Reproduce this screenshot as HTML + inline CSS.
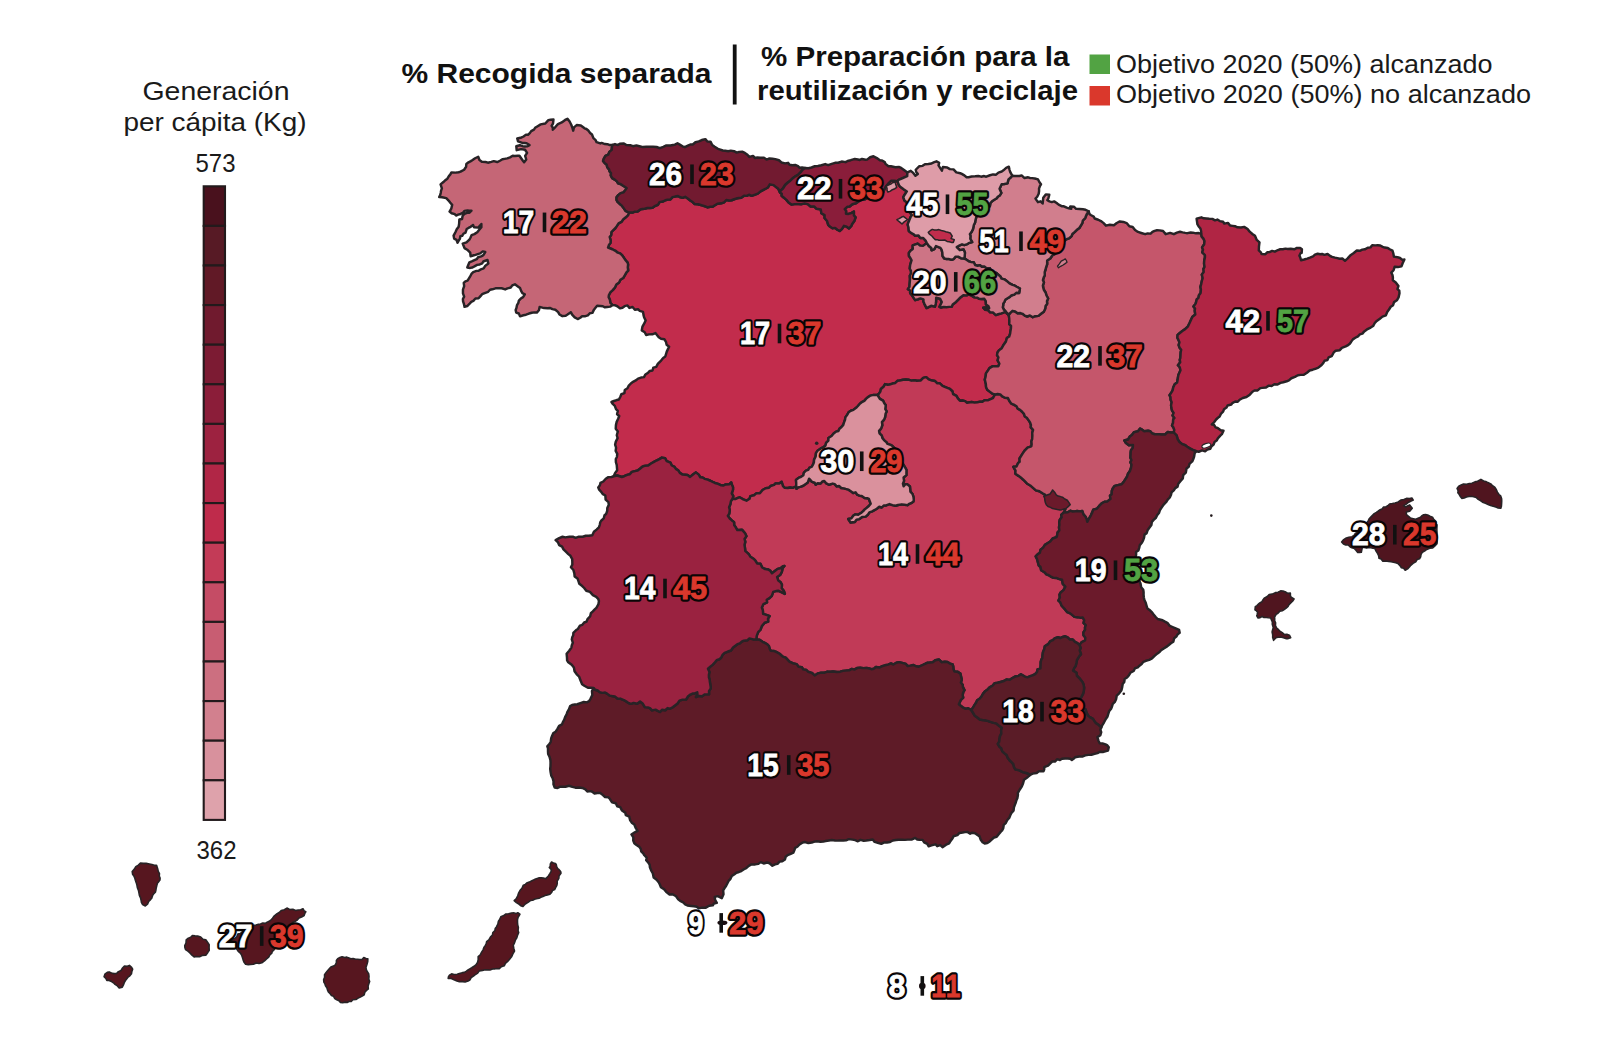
<!DOCTYPE html>
<html><head><meta charset="utf-8"><title>Mapa residuos</title>
<style>
html,body{margin:0;padding:0;background:#fff;}
body{width:1604px;height:1046px;overflow:hidden;font-family:"Liberation Sans",sans-serif;}
svg{display:block;position:absolute;left:0;top:0;}
text{font-family:"Liberation Sans",sans-serif;}
.reg{stroke:#282326;stroke-width:2.45;stroke-linejoin:round;}
.isl{stroke:#282326;stroke-width:1.6;stroke-linejoin:round;}
.num{font-weight:bold;font-size:31.11px;font-kerning:none;}
.o{fill:#0a0506;stroke:#0a0506;stroke-width:5.4px;stroke-linejoin:round;}
.w{fill:#fff;stroke:#fff;stroke-width:0.8px;}
.r{fill:#DA382C;stroke:#DA382C;stroke-width:0.8px;}
.g{fill:#52A343;stroke:#52A343;stroke-width:0.8px;}
.bar{fill:#111;}
.hd{font-weight:bold;font-size:27.6px;fill:#111;}
.lg{font-size:25px;fill:#1a1a1a;}
</style></head><body>
<svg width="1604" height="1046" viewBox="0 0 1604 1046">
<rect width="1604" height="1046" fill="#fff"/>

<path class="reg" fill="#C22C4C" d="M628.75,212.5 632.98,212.52 634.86,211.6 637.62,211.44 640.37,209.4 642.36,208.94 644.61,208.7 647.45,208.03 649.79,207.93 652.56,207.79 655.3,205.8 658.01,204.75 659.47,202.1 663.08,201.53 665.35,200.22 667.59,199.63 670.41,199.45 672.48,197.16 675.03,196.58 677.97,196.05 679.65,197.03 682.64,197.89 685.16,196.81 688.1,198.79 690.21,200.43 692.64,202.09 694.71,204.09 697.94,204.23 699.84,204.75 702.94,205.65 704.75,206.23 707.6,207.44 710.21,206.74 712.63,206.74 714.49,205.5 717.43,203.73 721.17,203.3 724.2,202.29 726.27,200 729.01,200.47 731.66,200.24 734.12,199.26 736.18,198.54 738.74,198.04 741.22,197.76 744.07,195.72 746.73,195.89 748.96,194.74 751.57,195.8 754.47,194.81 757.83,193.59 760.56,191.34 763.41,189.88 766.04,188.52 767.94,187.45 769.82,184.34 773.69,185.08 775.19,186.37 778.28,188.81 780,192.5 781.77,193.77 781.6,195.77 783.63,197.43 786.67,200.13 788.58,202.49 791.41,204.59 794.7,204.14 798.42,204.1 801.57,204.17 804.69,203.44 807.75,204.1 810.58,206.5 814.09,206.45 816.34,208.73 820.78,209.4 821.36,213.24 824.6,215.08 824.54,218.07 827.06,220.97 828.2,224.88 829.92,226.56 832.44,228.16 835.12,227.87 837.34,229.77 839.64,230.96 841.86,229.09 843.92,225.8 846.67,226.68 849.05,228.41 851.31,225.96 852.14,224.03 854.31,221.1 855.61,217.38 853.9,215.48 853.88,211.52 851.33,213.1 848.53,213.95 845.96,213.67 846.12,211.06 844.68,209.12 847.5,206.64 849.64,206.43 852.33,204.27 855.99,203.3 859.18,200.96 861.89,199.73 865.18,199.22 867.06,198.01 870.39,197.14 872.27,196.86 874.95,195.68 878.12,196.78 879.15,193.94 883.19,192.43 884.15,189.88 885.73,186.56 887.92,183.91 891.04,180.74 894.36,180.83 897.41,181.18 898.99,185.25 900.24,186.75 903.96,189.46 906.86,191.43 904.66,194.7 903.3,197.06 904.46,200.59 906.32,201.91 907.68,204.92 908.27,208.07 908.57,211.08 911.92,215.06 910.5,217.19 909.16,220.67 908.12,223 907.69,224.75 908.52,227.62 908.79,231 910.99,232.86 913.24,234 915.18,235.71 918.53,235.58 920.28,237.91 923.22,238.01 925.79,240.92 926.86,243.11 923.04,245.88 920.1,245.61 917.69,243.56 912.7,245.35 912.76,248.99 910.51,250.66 908.87,253.04 908.97,256.09 910.23,257.76 911.58,260.25 910.84,262.56 910.13,265.02 909.75,268.65 910.84,270.5 911.11,273.22 909.77,275.77 909.99,279.15 909.87,281.11 909.59,284.13 909.45,286.82 907.88,289.16 910.1,290.48 910.14,293.1 911.73,294.85 912.67,296.41 915.16,300.18 918.11,299.25 920.37,298.42 923.45,299.33 923.42,301.56 924.39,303.82 926.6,308.07 931.06,305.79 934.94,306.67 935.69,304.02 936.09,301.46 936.14,297.75 940,298.69 941.77,302.04 940.64,304.42 939.48,306.81 941.08,307.52 943.73,306.88 946.56,307.15 949.1,306.85 951.73,306.88 952.7,304.41 954.7,302.91 956.01,301.95 958.54,299.34 960.41,297.44 963.32,295.22 966.64,295.38 968.65,294.38 971.63,295.6 974.5,297.38 977.46,297.65 979.04,298.75 981.4,299.04 984.31,298.82 985.78,301.18 985.93,304.49 988.33,305.93 989.22,308.16 986.72,307.25 983.24,307.71 985.09,309.67 988.09,310.16 990.16,312.3 992.9,312.36 995.88,315.11 998.12,314.21 1001.3,313.39 1003.68,312.65 1005.28,311.41 1007.25,313.13 1008.75,315 1009.23,318.08 1009.37,321.06 1009.24,324.11 1011.04,325.86 1010.9,328.63 1010.37,331.63 1010.12,333.65 1009.19,336.59 1006.89,338.07 1005.79,341.79 1003.69,344.68 1001.74,348.24 998.92,350.38 997.52,352.45 997.05,355.16 998.4,357.39 997.59,360.44 999.36,363.51 998.44,366.23 995.95,366.21 992.86,366.15 989.45,368.13 988.03,370.31 985.97,373.42 985.65,376.39 984.79,379.66 985.86,384 986.05,387.04 987.27,389.67 990.01,391.84 992.21,393.57 995,394.5 992.95,398.15 990,399.34 987.74,400.28 984.53,400.14 982.47,401.66 980.22,401.64 977.63,402.2 974.56,402.64 971.71,402.04 967.03,402.8 965.06,401.14 962.42,400.5 959.88,400.67 957.82,398.45 956.43,395.89 953.15,394.06 952.36,391.25 949.85,388.85 946.72,387.7 944.73,386.86 942.49,385.93 939.84,383.3 937.31,383.27 935.02,381.01 932,380.56 928.68,379.32 926.22,377.13 923.24,377.87 920.54,380.6 916.79,380.7 914.57,380.23 911.34,380.65 908.41,379.68 905.84,379.49 903.21,379.71 899.74,380.43 897.74,380.67 895.34,382.99 892.57,383.56 889.6,384.49 887.59,384.8 885.03,384.11 883.5,386.79 880.92,388.98 880.33,391.68 878.99,393.69 877.5,395 873.62,394.92 870.54,395.58 867.68,397.36 865.99,398.88 864.28,400.93 861.41,402.44 859.66,403.92 857.68,406.25 856.13,407.81 853.39,409.88 850.78,410.74 848.57,412.34 847.15,414.82 845.39,417.39 845.04,419.8 844.07,422.25 843.28,424.88 841.51,427.06 839.45,428.79 838.41,431.03 836.09,431.66 833.65,433.57 831.58,436.06 828.36,437.97 828.4,440.6 826.08,442.89 825.51,445.47 823.11,447.52 821.13,448.17 818.91,449.76 817.81,450.43 815.96,453.13 815.67,456.45 814.1,459.61 813.87,462.61 812.95,464.62 811.69,466.76 809.27,467.97 808.22,469.94 805.94,470.69 803.94,472.54 803.35,475.16 800.44,477.16 798.5,477.91 795.98,479.88 796.18,482.23 796.25,486.25 793.05,487.86 790.2,487.55 787.8,488.03 784.67,487.83 783,486.21 781.62,481.81 779.23,483.52 775.57,483.39 774.14,484.95 770.6,486.01 769.04,487.8 765.7,488.2 762.59,489.97 759.89,493.19 756.31,493.31 754.06,495.23 750.37,496.11 749.54,498.77 746.52,500.7 743.25,499.34 739.58,497.29 737.92,497.89 735.32,499.01 732.5,498.75 733.29,496.14 731.73,493.3 733.01,489.64 733.02,487.16 731.91,484.77 731.21,482.46 729.48,484.18 725.65,484.48 723.12,485.53 721.2,485.34 718.09,483.87 714.93,482.97 712.64,481.93 710.33,480.75 707.67,479.61 704.62,478.81 702.54,477.53 700.32,477.4 698.72,474.66 695.82,472.37 692.98,474.52 690.11,476.92 687.54,474.92 685.04,474.72 682.63,474.58 679.84,472.88 678.24,470.32 676.18,469.16 674.16,466.55 671.75,465.5 670.48,462.69 666.72,461.19 665.17,458.19 661.87,457.59 659.4,459.1 656.42,460.55 654.41,461.68 651.05,463.5 648.2,465.41 644.42,465.85 642.04,466.98 639.97,468.75 637.67,470.44 634.92,471.08 631.89,471.92 629.82,474.27 627.16,474.91 624.21,476.23 621.82,477 617.08,475.5 613.75,476.25 615.01,473.15 617.15,470.19 616.96,467.91 616.71,464.93 615.9,462.24 615.81,458.98 616.91,456.98 617.26,453.79 615.66,450.91 616.08,447.75 615.15,444.54 615.81,441.61 617.62,438.17 616.77,435.22 617.87,431.44 615.75,428.74 615.93,425.13 616.57,422.14 618.14,418.8 619.26,415.94 617.05,414.27 617.8,410.92 616,409.09 614.82,405.84 612.99,404.2 611.47,402.01 613.98,401.01 616.75,400.06 618.91,399.56 620.35,396.76 621.35,394.26 624.42,393.19 624.78,389.98 627.48,388.24 628.58,385.95 630.84,383.49 633.06,381.8 635.73,380.43 638.07,378.6 641.06,377.55 644,377.16 645.45,374.45 648.13,372.66 649.8,370.97 652.51,370.52 653.33,367.58 656.22,366.89 657.8,363.85 659.57,362.04 661.1,360.51 663.19,357.94 665.31,356.47 666.02,354.12 666.77,351.61 667.93,349.13 669.15,346.7 666.63,344.7 665.96,341.79 664.34,339.27 661.01,338.77 658.76,337.32 657.16,335.2 655.44,333.04 652.31,334.33 648.9,334.39 646.14,335.06 644.73,332.22 641.76,330.42 642.44,326.6 644.27,323.44 645.61,320.4 644.08,317.26 643.53,315.14 643,311.89 639.7,310.83 638.03,309.23 634.86,309.72 632.59,307.02 629.43,307.89 627.53,305.43 624.6,306.14 622.48,307.7 619.95,308.37 617.34,306.25 614.78,305.17 612.5,305 610.35,302.89 609.88,299.7 608.64,297.15 608.91,294.98 610.49,292.16 612.74,290.15 614.98,287.44 616.36,284.46 619.07,282.58 620.41,279.78 623.18,278.01 624.9,275.13 626.63,272.04 628.19,270.51 627.78,267.27 628.09,264.5 627.62,262.62 625.77,260.51 623.94,257.82 622.27,255.49 620.07,253.37 617.75,252.69 615.4,250.8 612.29,249.26 608.04,247.65 609.06,244.74 610.46,243.06 610.66,240.4 609.68,236.97 611.21,235.01 611.37,232.04 613.27,230.17 615.29,228.26 616.59,226.39 618.56,223.41 621.33,221.92 623.34,219.17 625.79,217.28 628.06,215.15Z"/>
<path class="reg" fill="#C13A57" d="M995,394.5 992.95,398.15 990,399.34 987.74,400.28 984.53,400.14 982.47,401.66 980.22,401.64 977.63,402.2 974.56,402.64 971.71,402.04 967.03,402.8 965.06,401.14 962.42,400.5 959.88,400.67 957.82,398.45 956.43,395.89 953.15,394.06 952.36,391.25 949.85,388.85 946.72,387.7 944.73,386.86 942.49,385.93 939.84,383.3 937.31,383.27 935.02,381.01 932,380.56 928.68,379.32 926.22,377.13 923.24,377.87 920.54,380.6 916.79,380.7 914.57,380.23 911.34,380.65 908.41,379.68 905.84,379.49 903.21,379.71 899.74,380.43 897.74,380.67 895.34,382.99 892.57,383.56 889.6,384.49 887.59,384.8 885.03,384.11 883.5,386.79 880.92,388.98 880.33,391.68 878.99,393.69 877.5,395 879.87,398.84 883.04,400.6 884.28,403.16 885.78,405.15 885.29,409.19 886.67,411.43 885.55,413.86 885.14,416.99 884.07,419.62 881.92,422.12 882.32,425.21 881.04,428.69 879.03,430.88 879.47,433.32 881.77,435.65 882.49,438.34 883.94,440.08 886.27,442.06 887.61,443.95 890.46,444.8 892.28,445.86 895.76,449.38 896.63,451.71 898.67,453.13 900.21,455.71 901.11,458.51 901.64,461.85 903.43,464.67 905.07,467.35 906.46,469.81 906.43,472.06 906.44,475.17 903.59,477.54 904.05,480.88 902.92,483.76 903.66,486.32 905.37,484.22 907.11,484.11 909.94,486.47 910.2,489.19 910.4,491.59 912.5,493.95 913.46,496.89 913.83,499.82 913.42,501.43 911.08,503.2 909.03,503.98 907.43,505.15 904.45,504.72 901.85,504.34 898.02,505.03 895.55,505.74 892.46,505.17 889.47,504.05 886.1,505.43 883.7,505.5 881.76,507.49 879.23,506.74 876.81,508.67 874.79,509.93 872.18,511.29 869.4,512.3 868.08,514.46 865.66,516.6 862.1,516.96 859.36,519.09 856.49,519.59 854.85,521.95 850.58,522.47 848.24,519.06 851.37,518.36 853.4,515.52 855.4,514.38 858.23,514.66 860.96,513.06 863.45,510.82 864.5,509.63 866.71,507.87 868.86,505.98 870.69,503.72 868.91,498.97 867.16,498.22 864.63,498.1 861.74,496.07 859.89,495.87 857.26,494.69 855.56,492.32 853.12,493.01 850.75,491.15 848.6,489.64 845.66,488.9 844.11,488.37 841.21,488.01 839.05,485.96 836.7,486.42 834.71,484.14 832.68,483.58 828.94,484.76 825.97,483.08 824.28,480.94 822.3,481.42 820.62,483.49 817.59,483.33 815.68,484.73 814.74,482.79 811.99,481.93 809.08,478.65 807.75,482.54 806.04,483.81 803.23,485.78 800.2,486.84 798.04,487.41 796.49,488.8 796.25,486.25 793.05,487.86 790.2,487.55 787.8,488.03 784.67,487.83 783,486.21 781.62,481.81 779.23,483.52 775.57,483.39 774.14,484.95 770.6,486.01 769.04,487.8 765.7,488.2 762.59,489.97 759.89,493.19 756.31,493.31 754.06,495.23 750.37,496.11 749.54,498.77 746.52,500.7 743.25,499.34 739.58,497.29 737.92,497.89 735.32,499.01 732.5,498.75 730.93,501.12 730.28,504.46 729.07,507.29 729.78,510.02 729.24,513.81 727.81,515.87 729.75,518.5 731.89,520.45 734.09,522.14 734.2,525.32 735.6,527.05 737.31,530.09 739.37,530.04 742.11,529.83 745.07,533.26 746.47,536.16 744.54,539.02 745.31,541.84 744.49,544.81 744.94,547.66 745.33,551.15 747.13,552.65 748.93,554.44 750.47,556.81 753.07,558.44 755.01,560.12 757.07,563.46 760.43,563.71 762.16,567.49 765.16,569.06 768.06,569.42 770.1,570.56 771.97,573.23 775.18,570.84 777.69,568.89 780.56,568.22 782.74,566.52 784.44,565.9 782.67,568.09 781.84,571.92 780.08,575.04 777.09,576.92 778.21,580.38 780.36,581.92 781.93,584.65 781.73,588.2 783.76,590.66 784.88,593.93 781.88,592.47 778.1,590.68 776.53,590.92 773.23,591.92 771.81,595.8 769.43,598.14 766.7,599.74 767.04,602.46 763.48,604.03 761.84,607.6 762.84,610.33 763.11,613.87 767.16,615.08 769.67,616.09 768,618.62 768.17,621.62 764.63,622.78 761.81,626.09 760.52,629.74 758.13,632.18 756.79,635.59 756.25,639.5 759.52,639.68 762.55,641.83 764.73,642.89 767.26,644.3 768.93,646 769.73,648.95 770.7,650.73 774.16,651.03 776.23,651.83 779.56,653.76 782.77,656.71 785.7,657.69 787.77,659.9 789.36,661.59 792.65,663.19 796.67,664.1 798.56,666.77 801.83,667.1 803.14,669.37 806.42,669.97 808.06,671.8 811.62,672.81 813.18,674.05 814.7,675.46 818.05,673.33 821.13,672.61 824.13,672.8 827.34,671.6 830.48,671.82 833.09,671.55 837.08,671.94 840.27,671.68 842.91,670.86 845.51,670.63 849.16,670.3 851.82,668.88 854.27,669.63 857.47,667.85 860.15,667.8 863.52,668.14 866.39,667.98 868.46,668.23 871.32,669.17 873.97,668.7 875.89,667.03 879.31,667.53 882.31,666.21 885.07,665.31 888.13,664.64 891.03,663.45 893.41,664.55 896.33,662.77 899.11,662.16 902.17,662.83 905.88,663.95 907.65,666.12 910.46,665.6 913.43,664.97 915.96,666.28 918.81,666.74 922.15,665.25 925.51,663.67 927.21,662.8 929.84,662.58 932.71,662.23 935.31,660.22 939.1,659.53 941.56,662.19 944.74,661.82 947.44,662.05 950.08,663.64 952.7,664.5 953.24,666.37 953.48,668.96 954.45,671.62 957.34,671.66 960.39,673.59 961.18,676.95 961.85,679.68 960.85,682.56 962.66,684.68 962.93,687.19 964.5,690.11 963.27,692.26 962.65,695.09 963.2,697.7 960.68,700.2 958.9,704.27 960.32,705.54 962.62,707.32 965.65,708.83 968.12,708.25 971.25,710 973.08,707.52 974.59,704.83 976.19,702.49 977.15,700.27 979.52,698.81 981.55,696.44 983.29,693.37 985.19,691.17 987.95,689.15 989.6,687.39 992.48,685.74 994.75,683.14 997.62,682.79 1000.55,682 1003.93,681.01 1006.77,679.39 1009.8,679.84 1012.44,678.04 1015.09,676.57 1018.62,675.84 1020.92,674.25 1024.75,676.56 1027.45,677.37 1030.28,676.16 1032.56,675.44 1035.18,674.13 1037,671.95 1037.6,669.4 1040.41,668.43 1040.64,664.76 1040.68,662.17 1041.36,659.56 1042.31,658.01 1042.51,655.25 1042.95,652.23 1044.21,649.2 1044.81,646.3 1048.19,644.14 1050.45,641.03 1052.9,640.02 1054.64,638.37 1057.93,637.27 1060.2,638.03 1062.79,636.98 1065.24,636.29 1067.63,637.39 1069.96,639.54 1072.79,639.45 1074.94,641.92 1077.45,643.14 1079.5,645 1081.8,642.08 1085.05,640.49 1085.34,637.63 1083.48,635.17 1083.4,632.34 1085.12,629.69 1084.97,627.58 1085.81,625.09 1083.56,622.99 1084.21,620.21 1082.81,617.53 1080.26,617.67 1077.5,617.16 1074.4,616.89 1072.39,615.17 1070.17,613.35 1067.28,612.19 1065.03,609.42 1062.8,606.99 1061.47,605.44 1060.32,602.34 1058.46,600.58 1059.86,597.5 1059.49,594.67 1060.63,592.49 1063.49,590.14 1065.36,586.62 1062.76,583.83 1062.01,579.72 1058.62,578.86 1056.82,577.98 1053.5,577.9 1051.43,576.98 1048.91,575.27 1046.47,574.43 1044.39,572.18 1041.13,570.2 1040.5,567.01 1038.65,565.26 1037.81,562.02 1037.01,558.99 1035.7,556.41 1037.69,554.28 1039.87,552.74 1040.57,549.72 1043.15,547.58 1044.91,544.84 1047.47,543.24 1050.23,541.53 1052.66,538.5 1056.54,537.13 1057.1,535.41 1057.63,532.4 1059.33,530.47 1059,527.16 1059.44,524.88 1059.23,522.22 1059.77,519.68 1061.63,517.3 1061.25,515 1063.49,512.96 1065.54,509.15 1061.89,508.07 1060.04,505.82 1057.1,503.87 1055.15,501.01 1052.12,500.41 1050.33,498.88 1047.43,497.78 1045.3,494.9 1042.92,493.53 1039.37,491.27 1035.94,490.35 1033.05,487.89 1030.22,485.44 1027.37,483.77 1025.02,481.4 1022.99,479.48 1020.75,477.46 1018.52,475.87 1015.33,473.81 1015.52,470.61 1013.38,466.82 1016.48,466.52 1018.01,463.16 1019.64,461.73 1019.51,458.48 1021.02,456.15 1022.74,453.38 1024.9,450.31 1027.59,447.59 1031.33,446.39 1031.65,444.2 1031.42,441.28 1032.16,439.14 1032.38,435.77 1032.24,432.85 1033.08,429.9 1030.79,427.44 1030.93,424.86 1030.14,422.71 1028.71,420.35 1026.81,417.7 1024.9,416.55 1023.96,413.82 1022.12,411.76 1020.07,409.91 1017.76,408.7 1016.54,406.28 1013.73,404.63 1011.3,403.62 1009.43,401.02 1007.94,397.95 1004.95,397.74 1002.3,396.39 1000.28,394.36 997.69,394.06Z"/>
<path class="reg" fill="#5E1B27" d="M756.25,639.5 759.52,639.68 762.55,641.83 764.73,642.89 767.26,644.3 768.93,646 769.73,648.95 770.7,650.73 774.16,651.03 776.23,651.83 779.56,653.76 782.77,656.71 785.7,657.69 787.77,659.9 789.36,661.59 792.65,663.19 796.67,664.1 798.56,666.77 801.83,667.1 803.14,669.37 806.42,669.97 808.06,671.8 811.62,672.81 813.18,674.05 814.7,675.46 818.05,673.33 821.13,672.61 824.13,672.8 827.34,671.6 830.48,671.82 833.09,671.55 837.08,671.94 840.27,671.68 842.91,670.86 845.51,670.63 849.16,670.3 851.82,668.88 854.27,669.63 857.47,667.85 860.15,667.8 863.52,668.14 866.39,667.98 868.46,668.23 871.32,669.17 873.97,668.7 875.89,667.03 879.31,667.53 882.31,666.21 885.07,665.31 888.13,664.64 891.03,663.45 893.41,664.55 896.33,662.77 899.11,662.16 902.17,662.83 905.88,663.95 907.65,666.12 910.46,665.6 913.43,664.97 915.96,666.28 918.81,666.74 922.15,665.25 925.51,663.67 927.21,662.8 929.84,662.58 932.71,662.23 935.31,660.22 939.1,659.53 941.56,662.19 944.74,661.82 947.44,662.05 950.08,663.64 952.7,664.5 953.24,666.37 953.48,668.96 954.45,671.62 957.34,671.66 960.39,673.59 961.18,676.95 961.85,679.68 960.85,682.56 962.66,684.68 962.93,687.19 964.5,690.11 963.27,692.26 962.65,695.09 963.2,697.7 960.68,700.2 958.9,704.27 960.32,705.54 962.62,707.32 965.65,708.83 968.12,708.25 971.25,710 972.74,712.25 974.74,715.61 977.03,717.31 979.82,719.53 982.5,720 984.81,720.2 987.65,720.89 990.46,721.88 993.62,722.86 996.22,723.34 998.61,725.42 1001.9,727.67 1001.15,730.19 1001.33,733.59 999.99,736.12 999.52,738.72 999.28,741.69 997.83,743.89 999.58,746.84 1001.38,748.38 1002.14,751.03 1004.31,753.17 1006.64,755.06 1007.7,757.8 1009.55,760.26 1011.77,762.35 1013.34,764.07 1014.04,767.09 1015.56,769.49 1019.39,770.38 1022.79,772.1 1025.38,772.81 1028.02,773.5 1030,775 1027.6,777.17 1024.04,779.64 1023.1,783.3 1021.88,786.31 1019.64,789.76 1017.75,793.2 1017.98,794.84 1017.43,797.9 1016.52,800.02 1015.7,802.74 1014.86,804.78 1013.94,807.36 1013.55,810.55 1011.69,812.54 1010.56,814.66 1009.4,817.6 1007.12,820.25 1005.78,823.1 1003.76,824.83 1003.26,828.11 1002.1,830.5 1000.42,832.15 998.69,834.23 996.68,836.83 993.99,837.47 991.91,839.33 989.71,841.49 987.34,843 984.67,843.49 982.58,842.18 980.59,839.43 979.43,836.15 977.8,835.13 975.04,833.26 972.31,832.68 970.2,833.68 967.36,831.88 964.92,832.13 962.73,832.51 959.47,832.91 957.4,835.14 953.54,836.23 952.59,838.17 950.56,840.95 949.12,843.35 946.14,844.65 942.49,847.16 940.31,845.07 937.22,846.19 935.61,844.32 931.47,845.43 928.7,846.34 927.28,843.92 924.15,842.29 922.55,839.9 919.51,839.84 917.25,839.56 915.23,837.99 911.53,839.64 907.85,839.62 904.85,839.9 901.76,839.83 898.53,839.7 895.91,840.03 892.82,840.52 890.06,841.99 887.01,842.48 884.29,842.39 881.33,843.86 878.6,843.05 874.61,841.88 872.75,839.58 869.76,840.05 866.16,840.48 863.71,840.7 860.55,839.82 857.88,841.3 855.21,840.13 852.45,839.62 848.84,839.15 846.01,840.36 843.29,840.57 839.87,840.39 837.54,840.63 835,840.43 831.81,840.01 828.94,840.5 825.62,841.02 823.3,841.6 820.43,841.81 816.93,841.22 813.72,841.81 811.72,842.54 808.32,843.12 805,842.07 802.77,842.48 799.54,844.49 797.36,846.78 795.15,847.89 794.43,850.15 793.4,852.63 790.11,854.13 787.64,855.13 785.71,856.67 784.97,859.46 782.32,861.18 779.55,861.61 777.46,863.91 775.02,864.4 772.39,865.77 769.57,863.29 767.07,862.54 763.68,863.45 760.75,862.12 758.35,863.88 755.16,864.41 751.4,864.37 748.73,865.88 746.24,868.18 743.97,869.26 741.32,871.01 739,871.96 736.35,872.75 734.46,874.22 731.79,876.07 730.37,879.02 728.83,880.49 727.44,883.22 726.02,885.99 724.57,888.03 723.16,890.44 723.51,894.24 721.76,898.23 717.85,896.14 714.69,896.83 715.09,899.71 716.79,902.87 713.97,903.47 712.82,905.3 709.17,905.78 705.87,907.68 702.14,907.66 698.72,908.41 696.8,906.74 694.03,906.31 691.17,905.98 687.44,905.51 685.15,904.36 683.19,902.45 680.13,900.88 678.21,899.35 676.06,896.24 672.54,894.29 669.52,894.53 666.12,891.84 664.1,889.35 660.94,887.16 659.84,884.52 658.85,882.41 656.6,879.66 653.67,877.59 652.86,873.5 651.45,870.98 649.97,867.52 649.61,864.57 648.39,862.72 646.18,860.2 646.68,857.63 644.34,855.25 643.25,853.44 641.18,851.32 640.66,848.64 639.08,846.62 636.17,844.76 634.34,843.25 633.25,840.55 633.34,837.46 631.46,834.44 634.42,832.5 637.55,830.8 635.84,828.17 634.31,824.43 631.74,822.64 630.19,820.41 629.22,816.62 625.87,815.12 625.22,812.6 621.94,810.55 620.21,807.08 617.22,806.25 615.77,803.28 612.06,802.33 609.94,799.07 608.36,797.23 605.04,797 602.67,794.87 600.27,792.94 597.35,793.08 594.51,793.43 592.3,791.73 590.51,791.15 587.31,791.51 585.43,789.39 582.42,787.93 579.28,787.54 575.36,787.69 572.35,786.89 569.03,785.73 565.45,786.78 562.58,786.61 559.82,786.82 557.52,788.02 554.71,787.57 553.47,784.41 553.53,781.31 552.67,778.28 551.3,775.7 550.64,772.24 550.19,768.78 550.48,766.04 550.55,762.35 550.39,759.83 549.61,757.08 548.14,753.92 548,751.53 548.01,748.48 547.33,746.27 549.13,744.25 550.68,742.12 551.16,738.34 551.95,736.16 553.37,733.03 555.49,731.96 557.31,729.05 559.12,725.77 562,724.4 563.05,721.76 564.25,719.6 565.17,716.94 566.51,714.72 567.16,712.48 568.8,709.65 570.19,706.03 572.06,705.04 574.83,704.47 577.39,704.23 580.4,703.11 583.82,702 586.85,702.38 589.11,701.08 590.61,698.55 592.31,694.93 591.94,691.03 593.75,688 595.11,689.74 597.92,690.55 599.72,692.16 602.48,692.86 605.1,692.53 607.45,693.88 609.89,695.64 612.05,696.05 614.83,696.42 617.7,698.78 620.32,698.6 623.87,700.06 626.98,701.91 629.07,703.26 631.12,703.85 633.58,702.88 637.18,703.79 640.07,701.47 642.61,703.41 644.85,707.14 647.89,707.38 649.97,708.1 652.05,710.4 655.5,709.65 657.76,710.91 660.03,711.99 661.96,709.8 665.25,710.26 667.55,708.1 669.91,708.73 672.98,707.08 675.01,705.47 677.55,703.45 679.46,700.66 682.56,699.62 686.08,699.52 688.13,696.25 690.36,694.6 692.55,693.57 694.87,693.42 697.27,692.25 697.51,695.04 695.97,696.97 698.97,695.95 702.14,696.25 704.84,694.36 709.08,694.2 709,691.17 710.79,688.28 710.56,686.08 709.89,682.03 709.62,679.51 708.91,677.39 708.89,674.87 709.48,672.01 707.97,668.72 710.59,666.36 712.84,664.6 714.96,662.25 716.63,660.17 719.33,659.22 721.12,657.8 722.55,654.81 724.6,652.86 727.88,651.53 730.99,650.48 733.03,647.56 735.08,645.98 737.39,644.19 739.81,643.43 741.72,641.71 743.79,640.67 747.52,640.2 749.42,638.42 753.38,639.41Z"/>
<path class="reg" fill="#C5566B" d="M1088.75,211.25 1089.44,213.94 1090.71,215.03 1093.71,216.54 1094.66,218.51 1098.23,219.73 1100.93,221.08 1103.63,223.11 1105.96,225.67 1109.82,224.78 1113.88,225.24 1116.75,222.99 1119.83,221.44 1123.43,221.93 1126.64,223.04 1129.35,226.31 1132.68,227.03 1135.06,230.02 1137.99,231.94 1141.2,232.96 1145.16,234.17 1147.65,233.41 1150.63,233.65 1152.42,231.86 1154.59,230.83 1156.95,230.27 1159.68,230.37 1163.06,231.03 1165.71,234.16 1170.12,232.89 1173.88,234.19 1176.94,232.58 1179.99,231.73 1182.58,232.37 1185.27,232.85 1187.41,233.17 1190.65,232.54 1192.86,232.66 1195.95,233.33 1198.71,233.08 1201.25,233.75 1201.7,236.65 1203.3,238.3 1204.5,241.07 1204.2,244.26 1202.09,247.42 1203.02,249.77 1202.25,252.34 1204.93,255 1204.95,257.31 1204.22,260.63 1204.07,263.81 1204.54,266.86 1203.48,268.81 1203.72,272.02 1201.82,274.63 1202.66,278.08 1201.83,281.03 1201.28,283.86 1200.44,286.86 1200.9,289.41 1200.63,292.94 1198.96,295.16 1198.47,297.9 1196.89,299.19 1195.63,303.63 1193.47,306.47 1195.01,308.42 1194.75,310.85 1195.3,314.48 1192.51,316.66 1191.14,319.44 1189.68,322.75 1188.01,326.26 1185.13,329.12 1182.34,330.95 1179.84,332.95 1177.63,334.83 1177.4,337.7 1178.44,339.86 1179.44,342.22 1178.67,345.15 1179.61,347.83 1181.18,349.74 1180.68,352.15 1180.53,354.92 1180.38,357.77 1179.75,359.75 1180.22,362.18 1177.94,365.15 1179.75,367.2 1180.48,370.26 1179.4,372.72 1178.47,374.85 1177.94,377.39 1177.64,379.84 1177.12,382.49 1174.71,384.31 1173.21,387.47 1172.7,390.13 1171.59,392.17 1169.53,395.21 1170.51,397.15 1170.62,399.75 1171.67,402.2 1171.06,405.19 1171.34,407.6 1172.02,410.48 1173.64,412.86 1172.55,415.41 1174.42,418 1173.17,419.58 1173.06,422.91 1172.01,425.51 1173.31,427.2 1174.29,429.89 1173.75,432.5 1170.88,432.52 1167.62,432.04 1164.99,434.48 1161.16,434.43 1158.2,434.13 1154.75,434.26 1151.99,433.31 1150.26,431.27 1148.01,430.78 1144.25,431.17 1142.08,429.7 1140.07,428.62 1137.99,431.2 1134.16,432.1 1131.9,435.09 1129.76,436.53 1128.14,439.44 1124.29,440.44 1125.96,443.12 1128.92,445.22 1132.94,444.88 1132.79,447.85 1130.99,450.18 1130.67,452.19 1130.59,454.73 1130.43,457.74 1131.42,460.13 1130.38,462.21 1131.52,464.7 1130.98,467.92 1129.79,471.27 1127.94,473.73 1127.13,476.52 1125.13,479.56 1123.71,481.91 1121.69,484.26 1117.78,485.08 1114.74,485.85 1112.86,488.2 1111.79,491 1111.65,494.26 1109.98,495.77 1110.54,498.89 1107.47,501.42 1104.6,501.8 1101.65,503.44 1098.97,506.21 1096.82,508.81 1093.25,509.64 1092.25,512.36 1090.88,515.3 1089.45,517.76 1087.23,521.84 1086.69,519.28 1085.44,516.53 1083.43,514.48 1082.23,510.93 1080.05,511.36 1077.13,510.98 1075.43,511.39 1072.59,511.54 1070.29,510.67 1067.77,512.23 1063.86,512.44 1061.25,515 1063.49,512.96 1065.54,509.15 1061.89,508.07 1060.04,505.82 1057.1,503.87 1055.15,501.01 1052.12,500.41 1050.33,498.88 1047.43,497.78 1045.3,494.9 1042.92,493.53 1039.37,491.27 1035.94,490.35 1033.05,487.89 1030.22,485.44 1027.37,483.77 1025.02,481.4 1022.99,479.48 1020.75,477.46 1018.52,475.87 1015.33,473.81 1015.52,470.61 1013.38,466.82 1016.48,466.52 1018.01,463.16 1019.64,461.73 1019.51,458.48 1021.02,456.15 1022.74,453.38 1024.9,450.31 1027.59,447.59 1031.33,446.39 1031.65,444.2 1031.42,441.28 1032.16,439.14 1032.38,435.77 1032.24,432.85 1033.08,429.9 1030.79,427.44 1030.93,424.86 1030.14,422.71 1028.71,420.35 1026.81,417.7 1024.9,416.55 1023.96,413.82 1022.12,411.76 1020.07,409.91 1017.76,408.7 1016.54,406.28 1013.73,404.63 1011.3,403.62 1009.43,401.02 1007.94,397.95 1004.95,397.74 1002.3,396.39 1000.28,394.36 997.69,394.06 995,394.5 992.21,393.57 990.01,391.84 987.27,389.67 986.05,387.04 985.86,384 984.79,379.66 985.65,376.39 985.97,373.42 988.03,370.31 989.45,368.13 992.86,366.15 995.95,366.21 998.44,366.23 999.36,363.51 997.59,360.44 998.4,357.39 997.05,355.16 997.52,352.45 998.92,350.38 1001.74,348.24 1003.69,344.68 1005.79,341.79 1006.89,338.07 1009.19,336.59 1010.12,333.65 1010.37,331.63 1010.9,328.63 1011.04,325.86 1009.24,324.11 1009.37,321.06 1009.23,318.08 1008.75,315 1010.03,313.11 1012.46,310.85 1015.17,311.46 1017.57,313.22 1020.44,313.03 1022.6,313.81 1024.79,315.58 1027.22,316.48 1029.95,315.5 1032.78,317.22 1034.63,316.24 1038.46,315.9 1041.01,313.81 1043.78,311.68 1045.19,308.8 1045.57,305.95 1047.16,303.71 1046.98,301.11 1048.16,298.5 1046.38,295.22 1045.72,292.72 1043.82,289.75 1043.12,287.13 1042.89,285.49 1043.94,282.32 1042.95,280.19 1043.75,277.38 1044.81,275.25 1044.69,272.07 1045.49,269.76 1046.2,266.86 1047.17,264.31 1047.16,260.43 1050.25,258.49 1052.29,255.48 1054.52,254.28 1057.16,252.08 1059.43,250.59 1061.09,247.93 1062.7,245.02 1063.19,241.83 1066.21,239.39 1069.46,238.01 1071.6,236.16 1072.4,233.99 1074.86,231.85 1076.63,230.06 1079.36,228.01 1080.81,225.64 1082.33,223.07 1082.86,220.53 1085.19,218.06 1086.58,214.53Z"/>
<path class="reg" fill="#B02544" d="M1201.25,233.75 1201.13,231.32 1200.42,228.48 1198.52,226.2 1197.39,224.25 1197.02,221.56 1196.6,218.72 1198.49,218.14 1201.37,217.33 1203.73,218.32 1206.4,218.49 1209.25,218.81 1212.39,218.87 1215.01,220.37 1217.37,219.55 1219.76,221.08 1223.09,221.73 1224.26,223.6 1227.92,222.88 1230.09,225.56 1232.61,225.86 1235,226.21 1237.43,227.32 1241,227.48 1244.12,226.86 1247.62,229.05 1249.69,231.68 1252.72,234.2 1254.98,235.85 1256.76,239.92 1259.48,242.37 1258.97,246.44 1258.8,250.45 1260.85,252.31 1261.58,254.14 1265.4,254.16 1267.46,252.2 1269.48,252.12 1272.09,250.87 1274.83,251.68 1277.91,250.04 1280.17,249.28 1282.79,249.31 1285.47,248.63 1287.66,248.93 1290.7,248.8 1294.29,249.31 1296.92,247.94 1300.17,248.01 1301.92,249.33 1301.68,252.81 1300.63,253.07 1299.37,255.68 1300.14,257.1 1301.03,260.19 1304.22,259.53 1307.24,258.62 1309.95,257.64 1313.05,256.31 1314.92,254.64 1317.69,253.73 1320.1,254.21 1322.14,253.93 1324.39,254.83 1327.59,253.98 1330.06,255.87 1332,256.9 1335.04,257.64 1337.37,258.09 1339.65,258.78 1342.34,258.56 1344.99,260.73 1347.45,258.68 1349.45,256.4 1350.87,254.91 1353.79,252.98 1356.81,250.54 1359.8,250.77 1362.29,249.61 1364.91,249.31 1367.7,247.75 1370.52,247.37 1372.16,245.34 1375.33,245.35 1377.75,245.22 1380.27,245.51 1382.7,246.83 1384.71,247.56 1387.81,247.94 1389.68,249.26 1392.46,250.71 1393.23,253.05 1393.96,256.65 1397.5,257.17 1400.04,257.98 1402.32,259.89 1404.41,259.57 1402.64,263.29 1401.47,266.33 1397.83,267.08 1394.71,266.73 1393.57,270.24 1391.31,272.7 1392.47,274.99 1392.88,277.56 1392.84,280.22 1395.79,282.45 1398.44,285.91 1397.45,289.11 1399.28,290.65 1399.49,293.31 1398.57,297.39 1396.87,300.3 1394.01,302.11 1393.1,305.14 1390.73,306.77 1389.01,309.52 1387.21,312 1385.88,315.35 1382.43,316.59 1379.86,318.7 1376.75,320.96 1374.91,322.76 1373.09,326.06 1370.66,327.55 1366.96,329.44 1364.24,331.39 1362.4,333.64 1359.84,334.44 1357.99,336.32 1355.33,337.79 1352.89,339.39 1351.42,341.38 1350.01,343.5 1347.59,345.44 1345.73,346.44 1341.85,347.84 1339.8,350.18 1335.69,350.67 1333.57,352.74 1331.71,356.21 1328.59,357.44 1327.41,360.08 1324.53,360.76 1323.34,362.86 1321.62,364.97 1318.35,367.64 1315.96,368.53 1312.68,369.71 1309.6,370.55 1306.98,372.72 1303.83,374.71 1300.65,374.87 1297.91,375.26 1294.95,376.87 1291.35,378.23 1288.93,380.31 1286.7,381.29 1283.26,382.27 1280.44,382.89 1277.6,384.54 1274.35,384.21 1271.61,386 1268.76,385.65 1266.01,387.44 1262.43,387.88 1260.32,388.1 1257.62,390.43 1254.48,390.55 1252.48,391.75 1249.79,394.69 1246.47,397.04 1242.82,398 1239.63,399.75 1237.77,401.73 1235.23,401.5 1232.33,403.1 1231.32,404.52 1227.56,405.49 1226.46,407.57 1224.02,409.29 1223.1,411.65 1221.09,413.57 1219.65,416.52 1217.95,417.75 1216.12,419.5 1214.09,422.3 1211.87,424.45 1214.05,424.92 1215.58,427.43 1217.65,427.98 1220.65,430.21 1223.48,430.74 1221.88,434.17 1220.29,435.64 1217.83,438.31 1216.6,440.54 1214.52,442.08 1213.62,444.54 1211.55,446.26 1210.29,448.79 1207.27,449.64 1205.13,451.29 1202.06,450.41 1198.75,451.75 1196.25,451.25 1193.09,450.12 1189.31,448.09 1187.13,446.65 1185.32,445.22 1182.18,444.14 1179.49,441.98 1177.63,439.13 1176.58,435.28 1173.75,432.5 1174.29,429.89 1173.31,427.2 1172.01,425.51 1173.06,422.91 1173.17,419.58 1174.42,418 1172.55,415.41 1173.64,412.86 1172.02,410.48 1171.34,407.6 1171.06,405.19 1171.67,402.2 1170.62,399.75 1170.51,397.15 1169.53,395.21 1171.59,392.17 1172.7,390.13 1173.21,387.47 1174.71,384.31 1177.12,382.49 1177.64,379.84 1177.94,377.39 1178.47,374.85 1179.4,372.72 1180.48,370.26 1179.75,367.2 1177.94,365.15 1180.22,362.18 1179.75,359.75 1180.38,357.77 1180.53,354.92 1180.68,352.15 1181.18,349.74 1179.61,347.83 1178.67,345.15 1179.44,342.22 1178.44,339.86 1177.4,337.7 1177.63,334.83 1179.84,332.95 1182.34,330.95 1185.13,329.12 1188.01,326.26 1189.68,322.75 1191.14,319.44 1192.51,316.66 1195.3,314.48 1194.75,310.85 1195.01,308.42 1193.47,306.47 1195.63,303.63 1196.89,299.19 1198.47,297.9 1198.96,295.16 1200.63,292.94 1200.9,289.41 1200.44,286.86 1201.28,283.86 1201.83,281.03 1202.66,278.08 1201.82,274.63 1203.72,272.02 1203.48,268.81 1204.54,266.86 1204.07,263.81 1204.22,260.63 1204.95,257.31 1204.93,255 1202.25,252.34 1203.02,249.77 1202.09,247.42 1204.2,244.26 1204.5,241.07 1203.3,238.3 1201.7,236.65Z"/>
<path class="reg" fill="#6B1A2B" d="M1061.25,515 1063.86,512.44 1067.77,512.23 1070.29,510.67 1072.59,511.54 1075.43,511.39 1077.13,510.98 1080.05,511.36 1082.23,510.93 1083.43,514.48 1085.44,516.53 1086.69,519.28 1087.23,521.84 1089.45,517.76 1090.88,515.3 1092.25,512.36 1093.25,509.64 1096.82,508.81 1098.97,506.21 1101.65,503.44 1104.6,501.8 1107.47,501.42 1110.54,498.89 1109.98,495.77 1111.65,494.26 1111.79,491 1112.86,488.2 1114.74,485.85 1117.78,485.08 1121.69,484.26 1123.71,481.91 1125.13,479.56 1127.13,476.52 1127.94,473.73 1129.79,471.27 1130.98,467.92 1131.52,464.7 1130.38,462.21 1131.42,460.13 1130.43,457.74 1130.59,454.73 1130.67,452.19 1130.99,450.18 1132.79,447.85 1132.94,444.88 1128.92,445.22 1125.96,443.12 1124.29,440.44 1128.14,439.44 1129.76,436.53 1131.9,435.09 1134.16,432.1 1137.99,431.2 1140.07,428.62 1142.08,429.7 1144.25,431.17 1148.01,430.78 1150.26,431.27 1151.99,433.31 1154.75,434.26 1158.2,434.13 1161.16,434.43 1164.99,434.48 1167.62,432.04 1170.88,432.52 1173.75,432.5 1176.58,435.28 1177.63,439.13 1179.49,441.98 1182.18,444.14 1185.32,445.22 1187.13,446.65 1189.31,448.09 1193.09,450.12 1196.25,451.25 1194.7,453.14 1194.15,456.49 1193.2,459.35 1192.26,461.41 1189.48,463.87 1188.73,466.78 1186.53,468.54 1185.79,472.69 1183.2,475.17 1182.83,478.4 1180.6,480.93 1178.31,483.68 1177.55,486.65 1175.22,488.14 1173.82,490.34 1171.58,492.22 1171.03,494.79 1169.79,497.49 1167.71,499.64 1166.03,502.21 1163.68,504.52 1161.74,507.44 1159.98,509.99 1159.11,512.68 1157.09,515.24 1155.94,517.75 1153.62,519.85 1151.86,521.89 1151.39,525.01 1149.33,527.72 1147.53,530.41 1146.66,533.13 1144.49,534.63 1144.08,537.64 1142.92,540.75 1142.01,542.53 1139.83,545.09 1139.34,547.35 1138.33,550.56 1136.04,552.1 1136.14,554.88 1135.36,557.35 1135.47,559.98 1134.93,563.64 1135.01,567.08 1136.34,569.62 1137.03,572.35 1137.27,575.5 1139.54,577.41 1139.26,580.72 1140.54,583.6 1141.2,587.19 1143.26,589.71 1143.61,592.14 1143.58,594.97 1143.89,597.66 1144.3,599.81 1145.75,602.78 1146.41,605.2 1147.35,608.39 1149.99,610.27 1152.03,612.33 1153.4,614.29 1155.71,616.99 1157.64,618.98 1160.56,619.73 1162.53,620.26 1164.97,621.64 1167.7,623.09 1169.38,625.56 1172.53,627 1175.05,628.16 1179.11,629.96 1179.67,632.85 1177.75,634.17 1176.32,636.56 1174.19,638.25 1173.3,641.76 1170.91,643.2 1168.47,645.2 1166.27,646.92 1163.77,648.43 1161.08,650.2 1159.55,651.98 1157.16,653.64 1154.34,656.13 1152.02,658.4 1149.21,659.81 1145.92,660.78 1143.32,661.88 1141.66,664.08 1139.45,665.71 1137.79,667.34 1135.02,668.27 1133.67,670.97 1130.38,672.8 1128.98,675.17 1127.04,677.52 1124.67,678.96 1124.24,682.09 1122.75,683.75 1122.2,687.16 1121.44,690.28 1119.18,693.33 1116.78,695.53 1116.06,699.34 1114.84,701.89 1112.78,703.98 1112.02,706.43 1111.09,708.77 1109.08,711.35 1108.35,713.65 1107.52,716.47 1105.81,718.98 1104.06,722.26 1102.34,725.1 1101.25,727.5 1099.95,726.4 1097.96,724.42 1095.89,723.14 1094.06,720.74 1092.96,718.92 1089.81,717.12 1088.26,715.89 1086.42,712.58 1085.69,709.49 1083.03,708.02 1081.77,705.44 1081.83,702.56 1079.26,700.05 1081.3,697.13 1083.12,693.62 1083.76,691.17 1084.15,687.9 1083.63,684.79 1082.62,682.2 1080.82,680.07 1079.53,678.3 1076.91,675.75 1076.48,672.82 1073.05,670.64 1074.29,667.86 1075.65,665.96 1076.42,663.06 1077.02,659.85 1079,656.55 1080.96,654.14 1079.68,650.44 1080.58,647.99 1079.5,645 1081.8,642.08 1085.05,640.49 1085.34,637.63 1083.48,635.17 1083.4,632.34 1085.12,629.69 1084.97,627.58 1085.81,625.09 1083.56,622.99 1084.21,620.21 1082.81,617.53 1080.26,617.67 1077.5,617.16 1074.4,616.89 1072.39,615.17 1070.17,613.35 1067.28,612.19 1065.03,609.42 1062.8,606.99 1061.47,605.44 1060.32,602.34 1058.46,600.58 1059.86,597.5 1059.49,594.67 1060.63,592.49 1063.49,590.14 1065.36,586.62 1062.76,583.83 1062.01,579.72 1058.62,578.86 1056.82,577.98 1053.5,577.9 1051.43,576.98 1048.91,575.27 1046.47,574.43 1044.39,572.18 1041.13,570.2 1040.5,567.01 1038.65,565.26 1037.81,562.02 1037.01,558.99 1035.7,556.41 1037.69,554.28 1039.87,552.74 1040.57,549.72 1043.15,547.58 1044.91,544.84 1047.47,543.24 1050.23,541.53 1052.66,538.5 1056.54,537.13 1057.1,535.41 1057.63,532.4 1059.33,530.47 1059,527.16 1059.44,524.88 1059.23,522.22 1059.77,519.68 1061.63,517.3Z"/>
<path class="reg" fill="#9A2240" d="M732.5,498.75 730.93,501.12 730.28,504.46 729.07,507.29 729.78,510.02 729.24,513.81 727.81,515.87 729.75,518.5 731.89,520.45 734.09,522.14 734.2,525.32 735.6,527.05 737.31,530.09 739.37,530.04 742.11,529.83 745.07,533.26 746.47,536.16 744.54,539.02 745.31,541.84 744.49,544.81 744.94,547.66 745.33,551.15 747.13,552.65 748.93,554.44 750.47,556.81 753.07,558.44 755.01,560.12 757.07,563.46 760.43,563.71 762.16,567.49 765.16,569.06 768.06,569.42 770.1,570.56 771.97,573.23 775.18,570.84 777.69,568.89 780.56,568.22 782.74,566.52 784.44,565.9 782.67,568.09 781.84,571.92 780.08,575.04 777.09,576.92 778.21,580.38 780.36,581.92 781.93,584.65 781.73,588.2 783.76,590.66 784.88,593.93 781.88,592.47 778.1,590.68 776.53,590.92 773.23,591.92 771.81,595.8 769.43,598.14 766.7,599.74 767.04,602.46 763.48,604.03 761.84,607.6 762.84,610.33 763.11,613.87 767.16,615.08 769.67,616.09 768,618.62 768.17,621.62 764.63,622.78 761.81,626.09 760.52,629.74 758.13,632.18 756.79,635.59 756.25,639.5 753.38,639.41 749.42,638.42 747.52,640.2 743.79,640.67 741.72,641.71 739.81,643.43 737.39,644.19 735.08,645.98 733.03,647.56 730.99,650.48 727.88,651.53 724.6,652.86 722.55,654.81 721.12,657.8 719.33,659.22 716.63,660.17 714.96,662.25 712.84,664.6 710.59,666.36 707.97,668.72 709.48,672.01 708.89,674.87 708.91,677.39 709.62,679.51 709.89,682.03 710.56,686.08 710.79,688.28 709,691.17 709.08,694.2 704.84,694.36 702.14,696.25 698.97,695.95 695.97,696.97 697.51,695.04 697.27,692.25 694.87,693.42 692.55,693.57 690.36,694.6 688.13,696.25 686.08,699.52 682.56,699.62 679.46,700.66 677.55,703.45 675.01,705.47 672.98,707.08 669.91,708.73 667.55,708.1 665.25,710.26 661.96,709.8 660.03,711.99 657.76,710.91 655.5,709.65 652.05,710.4 649.97,708.1 647.89,707.38 644.85,707.14 642.61,703.41 640.07,701.47 637.18,703.79 633.58,702.88 631.12,703.85 629.07,703.26 626.98,701.91 623.87,700.06 620.32,698.6 617.7,698.78 614.83,696.42 612.05,696.05 609.89,695.64 607.45,693.88 605.1,692.53 602.48,692.86 599.72,692.16 597.92,690.55 595.11,689.74 593.75,688 590.74,687.83 587.91,687.77 584.31,685.73 582.12,684.22 580.56,680.54 579.17,676.75 576.56,674.03 574.55,671.19 573.88,667.58 571.71,664.85 568.3,662.32 567.1,660.4 566.98,657.39 566.64,653.79 569.19,650.77 571.39,647.58 571.82,645.29 572.87,642.82 571.82,639.42 572.34,637.04 573.26,635.28 573.35,632.77 576.15,630.03 577.96,628.95 579.92,625.56 582.37,624.84 584.19,622.5 586.6,621.54 587.7,618.78 590.12,616.47 590.86,613.23 592.88,611.38 594.73,609.41 596.36,607.88 598.36,604.48 598.95,601.02 598.14,598.79 596.26,596.85 592.89,595.18 589.95,591.88 586.27,590.77 584.19,588.01 582.24,586.05 579.31,583.78 578.54,581.43 577.46,578.43 574.63,576.41 574.34,573.35 573.38,570 570.93,567.25 572.34,564.63 572.29,561.38 572.21,559.16 570.45,555.81 568.32,554.08 565.84,551.73 563.5,549.42 562.08,546.69 559.25,545.14 558.06,542.4 555.65,540.12 559.18,538.1 562.52,536.76 565.26,537.4 569.46,536.83 572.81,536.61 575.58,537.81 578.84,536.65 582.73,536.75 585.78,535.73 588.81,535.76 592.3,535.23 593.9,531.77 596.52,529.59 598.86,527.28 599.71,525.12 600.33,522.09 601.41,520.48 603.74,518.39 604.52,515.25 606.07,514.05 607.24,510.76 607.28,507.93 608.8,504.85 608.39,502.1 605.63,499.65 605.34,495.5 602.92,494.18 600.94,491.58 599.17,489.69 598.26,487.56 599.9,485.3 600.5,482.85 603.29,481.48 605.78,478.72 608.34,477.1 611.54,476.96 613.75,476.25 617.08,475.5 621.82,477 624.21,476.23 627.16,474.91 629.82,474.27 631.89,471.92 634.92,471.08 637.67,470.44 639.97,468.75 642.04,466.98 644.42,465.85 648.2,465.41 651.05,463.5 654.41,461.68 656.42,460.55 659.4,459.1 661.87,457.59 665.17,458.19 666.72,461.19 670.48,462.69 671.75,465.5 674.16,466.55 676.18,469.16 678.24,470.32 679.84,472.88 682.63,474.58 685.04,474.72 687.54,474.92 690.11,476.92 692.98,474.52 695.82,472.37 698.72,474.66 700.32,477.4 702.54,477.53 704.62,478.81 707.67,479.61 710.33,480.75 712.64,481.93 714.93,482.97 718.09,483.87 721.2,485.34 723.12,485.53 725.65,484.48 729.48,484.18 731.21,482.46 731.91,484.77 733.02,487.16 733.01,489.64 731.73,493.3 733.29,496.14Z"/>
<path class="reg" fill="#C56676" d="M612.5,305 610.18,306.64 607.17,306.99 604.91,307.29 602.86,306.25 600.19,305.99 597.1,305.83 595.29,308.03 593.99,309.66 592.39,312.87 589.82,313.28 587.88,315.42 585.41,316.2 582.08,316.3 580.28,317.76 577.7,319.06 574.67,317.32 572.15,314.64 570.9,312.19 567.51,314.56 565.65,315.77 562.41,316.15 559.44,314.44 558.15,312.07 555.37,309.75 552.42,309.16 549.81,307.95 547.59,308.2 544.07,308.09 539.64,306.92 538.91,310.29 536.82,312.56 534.43,312.39 531.76,312.72 528.95,313.53 526,314.73 523.4,315.28 520.04,316.37 518.84,313.49 516.19,312.6 515.66,310.01 516.38,308.16 517.02,305.05 518.33,302.91 518.88,300.58 520.81,298.56 523.08,297.14 524.81,294.29 522.37,293.1 521.12,290.93 520.08,288.1 518.22,286.74 514.94,284.3 512.28,285.4 510.77,287.55 507.47,288.37 505.19,289.42 501.6,288.25 498.03,288.29 495.49,288.3 492.33,289.3 490.03,289.73 488.15,291.79 485.34,292.81 482.13,294.18 480.27,296.37 478.59,298.27 475.44,298.55 473.34,300.92 471.23,301.9 469.39,303.96 467.21,306.05 464.52,306.81 464,304.23 463.08,301.29 462.91,299.05 464.14,296.66 462.98,293.45 462.96,289.66 464.17,286.05 463.74,282.91 465.38,281.36 467.58,280.69 470.02,276.71 471.43,273.94 473.21,272.15 476.46,270.87 478.6,270.72 480.84,269.37 483.64,268.45 485.38,265.65 488.34,263.56 487.45,259.9 483.3,261.5 482.21,263.36 479.72,264.45 477.09,264.89 475.36,265.81 472.42,267.48 470.19,267.92 467.28,267.42 468.69,263.93 469.41,262.33 472.33,261.13 473.89,260.42 476.7,259.18 478.08,257.27 481.14,256.38 483.36,255.1 485.27,252.04 482.71,251.37 480.2,253.37 478.54,253.82 475.49,254.82 473.82,255.3 470.6,256.21 470.22,252.67 467.17,249.71 464.49,248.08 462.72,243.66 466.48,242.3 469.64,239.26 470.54,237.52 471.57,235.19 474.37,234.13 477.26,232.21 479.25,229.65 481.39,227.15 481.38,224.02 478.25,227.6 474.05,227.34 473.1,224.99 470.65,226.81 468.89,227.67 466.7,229.05 465.5,232.62 463.39,233.74 462.19,235.82 460.37,236.21 459.91,238.72 458.69,240.57 457.56,242.75 456.48,239.86 454.13,238.61 453.58,235.61 454.4,234.11 455.39,232.21 456.74,229.34 458.65,226.73 459.14,223.58 459.35,219.55 462.05,218.95 462.63,215.82 464.55,213.77 467.04,212.86 469.47,212.71 471.42,210.66 469.13,210.64 467.6,210.37 464.4,210.9 463.31,212.52 460.6,213.95 458.13,214.64 456.01,215.54 454.76,214.19 451.66,213.29 449.57,211.52 451.28,208.7 452.16,204.9 450.09,202.53 449.12,201.05 446.25,198.09 442.1,197.25 439.2,197.07 440.16,195.17 440.72,192.96 441.03,190.89 441.88,188.45 440.58,184.44 443.4,182.03 445.41,180.14 447.08,179.05 448.87,176.13 450.38,174.41 451.43,172.45 455.65,172.64 458.63,172.21 460.59,171.65 464.11,169.7 466.09,166.81 466.34,163.94 468.52,162.28 470.83,161.14 472.61,159.98 475.1,158.24 478.22,156.73 479.45,159.94 482.16,161.89 485.52,162.05 487.9,162.69 491.33,161.87 493.73,161.18 497.19,162.04 499.95,160.75 502.39,159.29 504.61,158.87 507.18,158.34 510.06,157.37 512.67,155.81 514.76,156.08 517.81,155.72 519.43,155.69 521.16,158.19 522.91,160.71 524.12,162.32 526.24,159.48 525.15,155.86 527.07,152.88 525.02,149.76 521.09,149.11 516.69,150.13 516.28,146.22 519.82,145.2 522.65,146.21 524.82,146.48 527.12,146.36 529.51,145.15 526.58,143.28 524.71,143.08 522.31,142.93 518.04,141.37 517.24,138.53 521.55,137.47 523.58,136.48 525.98,134.65 528.01,134.78 529.79,133.16 531.19,131.13 533.95,129.61 535.11,127.84 537.24,126.46 540.68,124.38 545.31,123.48 548.33,120.18 550.49,119.69 553.46,119.46 553.27,121.38 553.04,123.49 551.6,125.85 552.85,127.7 552.8,129.69 555.54,126.79 557.92,124.09 561.72,122.46 565.15,119.92 567.47,118.72 569.62,121.55 571.27,124.77 572.42,127.83 573.2,130.69 574.01,127.32 576.66,125.09 580.85,125.42 584.54,128.32 586.41,128.99 588.29,130.55 590.14,133.01 591.99,134.49 593.41,138.16 595.67,140.13 596.57,142.14 600.34,143.46 601.6,142.94 604.96,144.07 607.4,144.22 609.27,144.98 612.5,145 611.93,147.29 611.74,149.92 609.36,151.88 608.22,154.72 605.48,155.94 603.85,158.73 603.07,160.91 604.86,163.19 606.59,164.4 607.26,167.2 609.04,169.39 609.52,171.2 611.03,173.27 610.77,175.38 612.17,178.16 614.76,179.64 616.91,181.39 617.95,183.25 621.25,184.45 622.76,185.55 626.64,188.03 625.47,189.87 623.63,192.31 620.7,193.14 618.46,194.86 616.55,197.2 616.53,199.84 617.59,201.93 619.48,203.73 621.47,205.33 622.78,206.92 625.5,210.84 628.75,212.5 628.06,215.15 625.79,217.28 623.34,219.17 621.33,221.92 618.56,223.41 616.59,226.39 615.29,228.26 613.27,230.17 611.37,232.04 611.21,235.01 609.68,236.97 610.66,240.4 610.46,243.06 609.06,244.74 608.04,247.65 612.29,249.26 615.4,250.8 617.75,252.69 620.07,253.37 622.27,255.49 623.94,257.82 625.77,260.51 627.62,262.62 628.09,264.5 627.78,267.27 628.19,270.51 626.63,272.04 624.9,275.13 623.18,278.01 620.41,279.78 619.07,282.58 616.36,284.46 614.98,287.44 612.74,290.15 610.49,292.16 608.91,294.98 608.64,297.15 609.88,299.7 610.35,302.89Z"/>
<path class="reg" fill="#721A30" d="M612.5,145 615,144.07 617.81,145.07 619.81,143.75 623.92,143.51 626.36,145.06 630.18,145.21 633.01,146.2 636.4,145.42 640.4,146.48 642.92,147.09 646.28,146.78 650.08,146.83 653.1,146.81 656.59,146.99 659.74,148.21 663.29,146.91 666.37,145.48 670.47,145.46 672.96,144.98 674.88,144.65 677.48,143.21 680.2,144.88 682.53,146.28 684.86,147.21 687.9,145.67 690.28,144.48 692.75,144.46 695.4,142.25 698.89,141.43 701.77,140.03 705.35,139.12 707.35,141.6 710.5,141.66 712.22,144.98 714.66,146.69 717.92,148.8 720.32,149.56 722.78,150.48 725.29,150.79 728.23,151.26 730.77,150.65 734.03,151.18 736.7,152.64 739.19,151.88 742.18,151.71 744.87,152.9 747.42,154.73 749.29,156.9 753.03,155.93 754.87,157.92 757.33,157.55 760.23,157.68 763.92,157.61 766.51,159.53 769.4,158.49 772.42,158.74 775.23,159.16 778.96,160.29 781.39,162.45 785.07,163.38 788.04,162.84 789.53,164.81 792.21,165.26 795.26,164.92 798.03,166.08 799.63,167.8 802.09,167.51 805,168 802.64,169.65 800.51,172.47 798.09,174.84 795.46,176.36 792.48,178.52 790.3,180.66 787.94,182.48 785.18,185.02 783,188.49 780.67,190.58 780,192.5 778.28,188.81 775.19,186.37 773.69,185.08 769.82,184.34 767.94,187.45 766.04,188.52 763.41,189.88 760.56,191.34 757.83,193.59 754.47,194.81 751.57,195.8 748.96,194.74 746.73,195.89 744.07,195.72 741.22,197.76 738.74,198.04 736.18,198.54 734.12,199.26 731.66,200.24 729.01,200.47 726.27,200 724.2,202.29 721.17,203.3 717.43,203.73 714.49,205.5 712.63,206.74 710.21,206.74 707.6,207.44 704.75,206.23 702.94,205.65 699.84,204.75 697.94,204.23 694.71,204.09 692.64,202.09 690.21,200.43 688.1,198.79 685.16,196.81 682.64,197.89 679.65,197.03 677.97,196.05 675.03,196.58 672.48,197.16 670.41,199.45 667.59,199.63 665.35,200.22 663.08,201.53 659.47,202.1 658.01,204.75 655.3,205.8 652.56,207.79 649.79,207.93 647.45,208.03 644.61,208.7 642.36,208.94 640.37,209.4 637.62,211.44 634.86,211.6 632.98,212.52 628.75,212.5 625.5,210.84 622.78,206.92 621.47,205.33 619.48,203.73 617.59,201.93 616.53,199.84 616.55,197.2 618.46,194.86 620.7,193.14 623.63,192.31 625.47,189.87 626.64,188.03 622.76,185.55 621.25,184.45 617.95,183.25 616.91,181.39 614.76,179.64 612.17,178.16 610.77,175.38 611.03,173.27 609.52,171.2 609.04,169.39 607.26,167.2 606.59,164.4 604.86,163.19 603.07,160.91 603.85,158.73 605.48,155.94 608.22,154.72 609.36,151.88 611.74,149.92 611.93,147.29Z"/>
<path class="reg" fill="#8A1D3A" d="M805,168 808.37,168.29 811.53,167.51 814.77,166.25 817.92,165.97 821.46,165.27 825.2,164.05 828.15,165.21 831.75,163.92 835.06,162.84 838.17,162.77 841.63,161.56 845.59,162.15 847.64,160.96 850.71,160.21 852.45,159.57 854.76,158.95 857.87,159.55 859.83,159.96 862.03,158.98 865.55,159.73 867.14,159.6 870.12,157.2 873.45,156.29 876.85,158.08 879.88,160.23 882.06,160.52 884.71,162.09 885.51,163.92 888.45,166.32 890.92,166.24 895.43,167.18 898.83,166.94 901.18,167.93 904.37,170.26 907.38,172.46 907.2,176.23 903.33,177.81 900.41,179.18 898.58,179.83 897.41,181.18 894.36,180.83 891.04,180.74 887.92,183.91 885.73,186.56 884.15,189.88 883.19,192.43 879.15,193.94 878.12,196.78 874.95,195.68 872.27,196.86 870.39,197.14 867.06,198.01 865.18,199.22 861.89,199.73 859.18,200.96 855.99,203.3 852.33,204.27 849.64,206.43 847.5,206.64 844.68,209.12 846.12,211.06 845.96,213.67 848.53,213.95 851.33,213.1 853.88,211.52 853.9,215.48 855.61,217.38 854.31,221.1 852.14,224.03 851.31,225.96 849.05,228.41 846.67,226.68 843.92,225.8 841.86,229.09 839.64,230.96 837.34,229.77 835.12,227.87 832.44,228.16 829.92,226.56 828.2,224.88 827.06,220.97 824.54,218.07 824.6,215.08 821.36,213.24 820.78,209.4 816.34,208.73 814.09,206.45 810.58,206.5 807.75,204.1 804.69,203.44 801.57,204.17 798.42,204.1 794.7,204.14 791.41,204.59 788.58,202.49 786.67,200.13 783.63,197.43 781.6,195.77 781.77,193.77 780,192.5 780.67,190.58 783,188.49 785.18,185.02 787.94,182.48 790.3,180.66 792.48,178.52 795.46,176.36 798.09,174.84 800.51,172.47 802.64,169.65Z"/>
<path class="reg" fill="#5A1C27" d="M971.25,710 973.08,707.52 974.59,704.83 976.19,702.49 977.15,700.27 979.52,698.81 981.55,696.44 983.29,693.37 985.19,691.17 987.95,689.15 989.6,687.39 992.48,685.74 994.75,683.14 997.62,682.79 1000.55,682 1003.93,681.01 1006.77,679.39 1009.8,679.84 1012.44,678.04 1015.09,676.57 1018.62,675.84 1020.92,674.25 1024.75,676.56 1027.45,677.37 1030.28,676.16 1032.56,675.44 1035.18,674.13 1037,671.95 1037.6,669.4 1040.41,668.43 1040.64,664.76 1040.68,662.17 1041.36,659.56 1042.31,658.01 1042.51,655.25 1042.95,652.23 1044.21,649.2 1044.81,646.3 1048.19,644.14 1050.45,641.03 1052.9,640.02 1054.64,638.37 1057.93,637.27 1060.2,638.03 1062.79,636.98 1065.24,636.29 1067.63,637.39 1069.96,639.54 1072.79,639.45 1074.94,641.92 1077.45,643.14 1079.5,645 1080.58,647.99 1079.68,650.44 1080.96,654.14 1079,656.55 1077.02,659.85 1076.42,663.06 1075.65,665.96 1074.29,667.86 1073.05,670.64 1076.48,672.82 1076.91,675.75 1079.53,678.3 1080.82,680.07 1082.62,682.2 1083.63,684.79 1084.15,687.9 1083.76,691.17 1083.12,693.62 1081.3,697.13 1079.26,700.05 1081.83,702.56 1081.77,705.44 1083.03,708.02 1085.69,709.49 1086.42,712.58 1088.26,715.89 1089.81,717.12 1092.96,718.92 1094.06,720.74 1095.89,723.14 1097.96,724.42 1099.95,726.4 1101.25,727.5 1100.37,729.74 1101.23,732.13 1100.34,735.29 1097.43,737.14 1098.52,740.95 1099.74,743.39 1102.42,743.37 1105.45,744.4 1107.37,745.42 1108.75,747.24 1108.02,750.53 1106.1,751.12 1102.83,752.01 1100.1,751.76 1097.53,753.07 1094.55,753.93 1091.43,754.79 1088.38,754.88 1085.28,755.37 1082.25,756.61 1079.11,756.44 1075.05,757.24 1074.23,758.22 1071.84,759.88 1070.23,758.74 1067.68,758.55 1065.06,758.41 1062,758.69 1059.93,760.09 1057.32,759.18 1054.92,761.52 1052.29,761.51 1050.59,763.03 1048.07,765.64 1044.27,767.13 1044.19,769.49 1043.48,771.34 1039.13,771.14 1036.68,772.99 1032.65,773.62 1030,775 1028.02,773.5 1025.38,772.81 1022.79,772.1 1019.39,770.38 1015.56,769.49 1014.04,767.09 1013.34,764.07 1011.77,762.35 1009.55,760.26 1007.7,757.8 1006.64,755.06 1004.31,753.17 1002.14,751.03 1001.38,748.38 999.58,746.84 997.83,743.89 999.28,741.69 999.52,738.72 999.99,736.12 1001.33,733.59 1001.15,730.19 1001.9,727.67 998.61,725.42 996.22,723.34 993.62,722.86 990.46,721.88 987.65,720.89 984.81,720.2 982.5,720 979.82,719.53 977.03,717.31 974.74,715.61 972.74,712.25Z"/>
<path class="reg" fill="#DA919D" d="M877.5,395 873.62,394.92 870.54,395.58 867.68,397.36 865.99,398.88 864.28,400.93 861.41,402.44 859.66,403.92 857.68,406.25 856.13,407.81 853.39,409.88 850.78,410.74 848.57,412.34 847.15,414.82 845.39,417.39 845.04,419.8 844.07,422.25 843.28,424.88 841.51,427.06 839.45,428.79 838.41,431.03 836.09,431.66 833.65,433.57 831.58,436.06 828.36,437.97 828.4,440.6 826.08,442.89 825.51,445.47 823.11,447.52 821.13,448.17 818.91,449.76 817.81,450.43 815.96,453.13 815.67,456.45 814.1,459.61 813.87,462.61 812.95,464.62 811.69,466.76 809.27,467.97 808.22,469.94 805.94,470.69 803.94,472.54 803.35,475.16 800.44,477.16 798.5,477.91 795.98,479.88 796.18,482.23 796.25,486.25 796.49,488.8 798.04,487.41 800.2,486.84 803.23,485.78 806.04,483.81 807.75,482.54 809.08,478.65 811.99,481.93 814.74,482.79 815.68,484.73 817.59,483.33 820.62,483.49 822.3,481.42 824.28,480.94 825.97,483.08 828.94,484.76 832.68,483.58 834.71,484.14 836.7,486.42 839.05,485.96 841.21,488.01 844.11,488.37 845.66,488.9 848.6,489.64 850.75,491.15 853.12,493.01 855.56,492.32 857.26,494.69 859.89,495.87 861.74,496.07 864.63,498.1 867.16,498.22 868.91,498.97 870.69,503.72 868.86,505.98 866.71,507.87 864.5,509.63 863.45,510.82 860.96,513.06 858.23,514.66 855.4,514.38 853.4,515.52 851.37,518.36 848.24,519.06 850.58,522.47 854.85,521.95 856.49,519.59 859.36,519.09 862.1,516.96 865.66,516.6 868.08,514.46 869.4,512.3 872.18,511.29 874.79,509.93 876.81,508.67 879.23,506.74 881.76,507.49 883.7,505.5 886.1,505.43 889.47,504.05 892.46,505.17 895.55,505.74 898.02,505.03 901.85,504.34 904.45,504.72 907.43,505.15 909.03,503.98 911.08,503.2 913.42,501.43 913.83,499.82 913.46,496.89 912.5,493.95 910.4,491.59 910.2,489.19 909.94,486.47 907.11,484.11 905.37,484.22 903.66,486.32 902.92,483.76 904.05,480.88 903.59,477.54 906.44,475.17 906.43,472.06 906.46,469.81 905.07,467.35 903.43,464.67 901.64,461.85 901.11,458.51 900.21,455.71 898.67,453.13 896.63,451.71 895.76,449.38 892.28,445.86 890.46,444.8 887.61,443.95 886.27,442.06 883.94,440.08 882.49,438.34 881.77,435.65 879.47,433.32 879.03,430.88 881.04,428.69 882.32,425.21 881.92,422.12 884.07,419.62 885.14,416.99 885.55,413.86 886.67,411.43 885.29,409.19 885.78,405.15 884.28,403.16 883.04,400.6 879.87,398.84Z"/>
<path class="reg" fill="#D17E8D" d="M1012.21,175.69 1014.76,176.03 1016.61,176.09 1019.43,176.01 1021.62,175.37 1024.53,178.06 1028.1,177.27 1029.89,177.98 1031.98,178.1 1034.82,178.47 1038.05,179.43 1039.47,182.26 1041.01,184.26 1040.06,185.75 1039.02,188.66 1039.1,191.01 1038.69,193.7 1037.21,196.71 1035.47,198.62 1037.92,202.15 1040.55,201.34 1042.65,203.52 1043.27,197.75 1045.76,194.4 1049.3,194.77 1048.34,198.5 1047.35,200.23 1049.44,201.38 1051.8,202.1 1054.15,201.38 1056.66,203.05 1058.64,204.67 1061.65,206.16 1063.88,206.28 1066.72,207.62 1068.86,208.3 1071.3,208.76 1070.17,206.59 1073.88,206.73 1076.09,208.8 1079.45,208.92 1082.93,209.3 1085.54,209.77 1088.75,211.25 1086.58,214.53 1085.19,218.06 1082.86,220.53 1082.33,223.07 1080.81,225.64 1079.36,228.01 1076.63,230.06 1074.86,231.85 1072.4,233.99 1071.6,236.16 1069.46,238.01 1066.21,239.39 1063.19,241.83 1062.7,245.02 1061.09,247.93 1059.43,250.59 1057.16,252.08 1054.52,254.28 1052.29,255.48 1050.25,258.49 1047.16,260.43 1047.17,264.31 1046.2,266.86 1045.49,269.76 1044.69,272.07 1044.81,275.25 1043.75,277.38 1042.95,280.19 1043.94,282.32 1042.89,285.49 1043.12,287.13 1043.82,289.75 1045.72,292.72 1046.38,295.22 1048.16,298.5 1046.98,301.11 1047.16,303.71 1045.57,305.95 1045.19,308.8 1043.78,311.68 1041.01,313.81 1038.46,315.9 1034.63,316.24 1032.78,317.22 1029.95,315.5 1027.22,316.48 1024.79,315.58 1022.6,313.81 1020.44,313.03 1017.57,313.22 1015.17,311.46 1012.46,310.85 1010.03,313.11 1008.75,315 1006.75,313.31 1005.37,311.14 1003.86,309.64 1002.75,307.31 1003.15,305.72 1003.27,303.57 1004.57,301.54 1005.53,299.47 1007.59,298.2 1009.86,296.9 1011.19,295.48 1014.25,294.67 1016.31,292.8 1019.14,292.95 1019.94,288.46 1016.67,286.71 1014.11,285.21 1012.53,284.86 1009.47,283.34 1007.52,281.65 1005.75,280.23 1004.46,279.38 1001.53,278.67 1000.17,276.17 998.05,274.6 996.44,272.99 994.03,272.32 991,270.82 989.92,268.23 986.51,268.34 984.45,266.71 981.79,266.77 980.13,265.32 977.55,265.74 975.13,265.04 973.74,262.24 970.81,261.94 969.07,261.47 966.45,259.67 964.33,258.57 964.67,256.58 964.94,252.78 963.65,249.53 959.82,250.15 956.74,247.02 959.7,245.35 962.05,244.33 964.36,245.05 967.21,244.2 968.66,243.13 972.19,242.04 970.29,238.86 970.46,235.94 969.87,234.18 971.7,231.7 973.09,228.85 973.86,225.05 975.1,222.49 975.37,220.63 976.13,217.59 976.84,215.39 978.94,213.71 981.51,213.24 982.22,210.51 984.92,207.95 987.26,207.08 989.85,206.26 990.42,203.03 991.97,201.31 994.31,199.69 996.77,198.23 997.77,196.76 999.68,195.56 1001.37,192.95 999.56,188.66 1001.64,184.33 1004.4,184 1007.46,183.39 1008.46,179.34 1010.66,177.56Z"/>
<path class="reg" fill="#CD7485" d="M964.33,258.57 966.45,259.67 969.07,261.47 970.81,261.94 973.74,262.24 975.13,265.04 977.55,265.74 980.13,265.32 981.79,266.77 984.45,266.71 986.51,268.34 989.92,268.23 991,270.82 994.03,272.32 996.44,272.99 998.05,274.6 1000.17,276.17 1001.53,278.67 1004.46,279.38 1005.75,280.23 1007.52,281.65 1009.47,283.34 1012.53,284.86 1014.11,285.21 1016.67,286.71 1019.94,288.46 1019.14,292.95 1016.31,292.8 1014.25,294.67 1011.19,295.48 1009.86,296.9 1007.59,298.2 1005.53,299.47 1004.57,301.54 1003.27,303.57 1003.15,305.72 1002.75,307.31 1003.86,309.64 1005.37,311.14 1006.75,313.31 1008.75,315 1007.25,313.13 1005.28,311.41 1003.68,312.65 1001.3,313.39 998.12,314.21 995.88,315.11 992.9,312.36 990.16,312.3 988.09,310.16 985.09,309.67 983.24,307.71 986.72,307.25 989.22,308.16 988.33,305.93 985.93,304.49 985.78,301.18 984.31,298.82 981.4,299.04 979.04,298.75 977.46,297.65 974.5,297.38 971.63,295.6 968.65,294.38 966.64,295.38 963.32,295.22 960.41,297.44 958.54,299.34 956.01,301.95 954.7,302.91 952.7,304.41 951.73,306.88 949.1,306.85 946.56,307.15 943.73,306.88 941.08,307.52 939.48,306.81 940.64,304.42 941.77,302.04 940,298.69 936.14,297.75 936.09,301.46 935.69,304.02 934.94,306.67 931.06,305.79 926.6,308.07 924.39,303.82 923.42,301.56 923.45,299.33 920.37,298.42 918.11,299.25 915.16,300.18 912.67,296.41 911.73,294.85 910.14,293.1 910.1,290.48 907.88,289.16 909.45,286.82 909.59,284.13 909.87,281.11 909.99,279.15 909.77,275.77 911.11,273.22 910.84,270.5 909.75,268.65 910.13,265.02 910.84,262.56 911.58,260.25 910.23,257.76 908.97,256.09 908.87,253.04 910.51,250.66 912.76,248.99 912.7,245.35 917.69,243.56 920.1,245.61 923.04,245.88 926.86,243.11 928.88,246 931.27,247.95 931.59,250.3 934.37,249.05 936,246.03 940.41,247.87 941.57,249.6 942.34,252.59 942.57,256.03 944.26,258.51 946.57,258.95 949.13,259.06 951.61,259.72 953.67,259.08 955.67,256.61 958.03,256.6 960.88,258.17Z"/>
<path class="reg" fill="#DE9CA8" d="M907.38,172.46 910.78,170.82 912.88,172.59 915.39,175.76 917.82,173.92 916.35,172.29 915.72,169.76 919.15,166.29 922.6,165.84 924.95,164.23 928.29,163.94 931.55,163.47 933.66,162.33 936.43,161.34 939.16,162.9 938.52,165.4 940.1,167.84 941.9,170.7 942.91,166.98 947.2,167.42 949.87,169.14 953.53,169.4 956.32,172.4 960.25,173.26 961.82,173.87 963.84,175.1 966.59,177.18 968.6,177.22 971.65,176.47 975.19,176.31 978.32,175.97 981.16,176.68 984.1,176.05 986.28,176.73 990,175.26 993.09,174.41 996.05,174.66 998.44,172.57 1001.74,171.53 1003.43,170.33 1006.16,167.94 1008.85,166.74 1009.58,170 1010.16,171.82 1012.21,175.69 1010.66,177.56 1008.46,179.34 1007.46,183.39 1004.4,184 1001.64,184.33 999.56,188.66 1001.37,192.95 999.68,195.56 997.77,196.76 996.77,198.23 994.31,199.69 991.97,201.31 990.42,203.03 989.85,206.26 987.26,207.08 984.92,207.95 982.22,210.51 981.51,213.24 978.94,213.71 976.84,215.39 976.13,217.59 975.37,220.63 975.1,222.49 973.86,225.05 973.09,228.85 971.7,231.7 969.87,234.18 970.46,235.94 970.29,238.86 972.19,242.04 968.66,243.13 967.21,244.2 964.36,245.05 962.05,244.33 959.7,245.35 956.74,247.02 959.82,250.15 963.65,249.53 964.94,252.78 964.67,256.58 964.33,258.57 960.88,258.17 958.03,256.6 955.67,256.61 953.67,259.08 951.61,259.72 949.13,259.06 946.57,258.95 944.26,258.51 942.57,256.03 942.34,252.59 941.57,249.6 940.41,247.87 936,246.03 934.37,249.05 931.59,250.3 931.27,247.95 928.88,246 926.86,243.11 925.79,240.92 923.22,238.01 920.28,237.91 918.53,235.58 915.18,235.71 913.24,234 910.99,232.86 908.79,231 908.52,227.62 907.69,224.75 908.12,223 909.16,220.67 910.5,217.19 911.92,215.06 908.57,211.08 908.27,208.07 907.68,204.92 906.32,201.91 904.46,200.59 903.3,197.06 904.66,194.7 906.86,191.43 903.96,189.46 900.24,186.75 898.99,185.25 897.41,181.18 898.58,179.83 900.41,179.18 903.33,177.81 907.2,176.23Z"/>
<path class="reg" style="stroke-width:1.5" fill="#C22C4C" d="M928.26,232.33 930.18,230.74 932.28,229.36 934.45,229.98 936.92,230.07 938.88,229.6 941.37,230.54 943.51,230.89 945.73,231.7 947.85,232.2 950.26,233 951.3,234.55 952.23,236.1 951.01,238.5 954.28,239.63 953.26,242.42 951.39,242.39 949.17,241.72 947.09,241.39 944.67,240.01 941.93,240.32 938.88,240.27 937.22,239.65 935.28,239.65 933.56,237.92 932.14,236.26 929.23,233.95Z"/>
<path class="reg" style="stroke-width:1.5" fill="#DE9CA8" d="M896.87,219.68 899.15,218.67 901.26,217.26 903.32,216.32 905.39,217.93 907.44,219.51 905.99,220.74 903.86,222.11 902,223.97 900.15,222.4 898.58,221.19Z"/>
<path class="reg" style="stroke-width:1.5" fill="#DE9CA8" d="M886.18,186.17 888.37,185.04 890.74,184.16 892.49,182.74 895.07,181.95 895.82,184.83 896.72,187.36 894.83,188.69 892.33,189.68 890.35,191.08 887.91,192.1 887.06,190.34 887.05,188.35Z"/>
<path class="reg" style="stroke-width:1.5" fill="#6B1A2B" d="M1043.75,496.25 1046.09,495.57 1047.85,494.68 1050.03,493.96 1051.41,492.06 1052.61,489.93 1054.64,492.21 1056.27,494.89 1058.05,496.08 1060.36,496.6 1062.47,497.17 1064.81,499.01 1067.3,500.28 1068.81,502.33 1070.21,504.67 1067.86,506.83 1065.94,508.56 1064.07,508.87 1061.91,509.64 1060.12,509.93 1057.36,509.5 1055.02,508.96 1052.62,508.58 1050.45,507.36 1048,506.46 1046.29,504.71 1045.41,502.76 1044.94,500.83 1044.66,498.27Z"/>
<path class="reg" style="stroke-width:1.3" fill="#D17E8D" d="M1057.5,266.25 1059.3,263.86 1061.23,261.08 1063.1,260.2 1065.29,258.93 1066.35,260.5 1067.01,262.31 1064.77,263.9 1062.71,265.24 1060.61,266.32 1058.54,267.78Z"/>
<path class="isl" fill="#50151F" d="M1341.65,541.95 1343.7,539.57 1346.33,537.95 1348.86,537.31 1352.13,536.75 1354.29,535.09 1355.43,533.14 1357.59,532.31 1359.61,530.49 1361.17,528.99 1362.9,527.16 1364.66,525.21 1366.24,523.27 1368.02,521.4 1369.14,518.78 1371,516.92 1372.99,514.92 1374.25,513.65 1376.38,512.42 1378.07,511.26 1380.13,509.77 1381.99,508.94 1383.58,507.15 1386,506.74 1387.84,505.74 1389.56,503.98 1392.29,503.53 1395.02,502.96 1398.23,501.98 1400.78,500.04 1403.89,499.58 1406.5,498.42 1409.39,498.5 1411.91,497.98 1413.24,500.1 1410.65,501.3 1408.22,502.43 1406.35,504.12 1403.5,505.64 1405.41,506.92 1407.89,505.71 1409.72,504.94 1412.24,508.17 1409.71,511.14 1406.33,512.09 1406.34,514.18 1407.6,515.71 1409.19,516.83 1410.44,518.01 1413.27,518.68 1415.77,519.23 1418.03,518.25 1420.52,517.26 1421.64,515.88 1423.61,514.79 1425.56,514.59 1427.67,515.07 1430,516.24 1432.53,517.19 1433.73,519.33 1435.8,521.31 1435.55,523.54 1436.98,524.91 1436.9,527.36 1436.84,529.71 1436.99,531.96 1436.87,534.3 1437.08,536.76 1436.64,539.24 1437.17,541.8 1437,543.79 1434.68,546.26 1432.73,547.91 1429.81,548.23 1426.75,549.39 1424.91,550.75 1422.34,552.21 1420.99,554.61 1420.64,556.78 1419.5,558.73 1417.13,559.53 1415.71,561.89 1413.05,563.35 1410.78,565.28 1409.39,567.03 1407.61,568.83 1405.2,570.21 1403.64,568.31 1401.44,567.67 1399.74,565.32 1397.89,563.43 1395.73,562.63 1393.4,562.24 1391.11,561.78 1388.67,561.36 1385.55,561.03 1382.86,561.26 1381.08,558.91 1379.04,558.29 1378.62,555.7 1377.4,553.16 1376.01,550.99 1374.89,548.58 1372.96,548.31 1370.98,547.73 1369.11,547.39 1366.61,548.08 1364.23,547.49 1362.32,547.46 1361.75,550.01 1361.33,552.31 1359.76,552.38 1357.73,552.57 1355.94,550.32 1354.27,548.46 1351.8,547.69 1350.22,547.01 1348.22,545.05 1345.72,544.95 1343.48,544.07Z"/>
<path class="isl" fill="#50151F" d="M1457.06,488.47 1458.76,486.13 1461.15,484.94 1463.5,484.02 1466.58,484.27 1469.3,483.44 1471.9,483.19 1474.95,481.86 1477.56,481.19 1480.91,479.4 1483.59,480.99 1485.73,481.42 1487.87,482.6 1490.78,483.92 1492.59,485.81 1494.75,487.07 1496.38,489.74 1497.41,492.09 1498.97,494.53 1500.68,495.98 1501.63,498.79 1501.71,500.91 1501.59,503.69 1501.41,506.19 1500.77,508.21 1497.7,507.85 1495.81,507.03 1493.26,506.33 1490.55,505.44 1488.1,504.43 1485.48,503.25 1482.58,502.18 1480.77,500.76 1478.19,499.34 1476.16,497.45 1473.63,496.83 1470.92,496.27 1468.83,496.46 1466.45,497.08 1464.2,498.06 1461.76,498.36 1460.52,496.81 1459.27,494.52 1457.85,492.75 1458.17,490.83Z"/>
<path class="isl" fill="#50151F" d="M1255.33,606.69 1256.97,605.63 1258.27,604.17 1260.17,602.71 1262.02,601.7 1262.95,599.96 1264.21,598.1 1267.25,596.47 1269.17,594.47 1272.31,594.1 1275.32,592.66 1278.04,592.24 1280.63,590.85 1282.9,591.02 1285.11,591.8 1287.55,593.19 1290.36,593.05 1290.39,595.57 1291.22,597.28 1294.05,598.94 1292.52,601.29 1290.75,602.95 1288.99,604.66 1288.07,606.4 1286.16,608.16 1284.17,609.65 1282.23,610.7 1279.85,611.12 1277.97,613.28 1276.16,614.29 1274.59,617 1274.74,619.01 1274.6,620.62 1275.6,622.81 1275.43,625.53 1276.67,628.06 1278.32,629.47 1279.9,631.07 1282.21,632.62 1284.52,634.59 1286.87,634.26 1289.41,635.15 1290.67,637.71 1288.16,638.59 1286.38,638.62 1283.48,637.8 1280.48,637.05 1278.6,637.27 1276.6,637.41 1275.05,638.75 1273.6,640.3 1272.69,637.59 1272.7,634.86 1272.12,632.03 1272.63,629.78 1273.26,627.62 1272.28,624.36 1272.36,621.96 1271.44,619.84 1270.67,617.97 1268.31,617.8 1266.51,617.56 1263.96,617.55 1262.12,616.55 1260.12,617.62 1258.11,618.03 1256.77,615.76 1257.18,614.45 1257.6,612.31 1256.55,610.94 1254.97,609.92Z"/>
<path class="isl" fill="#57161F" d="M132.22,871.58 134.36,869.15 135.81,866.63 138.35,865.18 140.43,863.13 143.35,863.42 146.19,863.36 149.46,863.92 151.93,864.44 154.26,865.34 156.56,865.34 157.67,868.69 158.27,871.4 159.48,873.53 159.26,875.94 160.1,877.98 159.93,880.09 158.64,881.67 157.37,883.4 156.74,885.87 156.14,888.38 155.87,890.21 155.35,892.26 153.63,893.85 152.52,895.64 151.72,898.18 150.53,899.59 148.7,901.44 147.5,904.13 145.3,905.91 142.64,904.64 141.42,902.39 141.09,900.22 140.55,897.88 139.41,895.37 138.95,892.77 138.47,890.43 137.38,887.61 136.93,885.16 136.31,882.9 135.47,880.51 134.83,878.19 133.88,876.04 132.63,874.27Z"/>
<path class="isl" fill="#57161F" d="M104.07,976.67 104.91,974.22 107.3,972.39 109.1,971.9 111.51,972.93 113.78,973.62 116.51,973.48 118.38,971.62 121.05,970.46 122.55,968.01 124.45,965.96 127.28,966.24 129.39,965.43 131.61,967.41 132.64,969.2 131.84,971.45 131.47,973.83 129.45,976.16 127.75,977.4 126.03,979.66 124.43,982.26 123.43,984.89 122.27,987.16 119.2,988 117.41,985.93 115.04,984.42 113.46,982.81 111.59,981.55 109.08,980.4 106.83,980.41 105.87,978.5Z"/>
<path class="isl" fill="#57161F" d="M184.76,945.7 185.98,942.98 186.21,939.89 188.32,938.14 190.81,937.13 192.41,935.56 195.02,935.9 197.69,936.09 200.7,937.03 202.99,939.29 205.79,939.76 207.53,942.25 209.17,944.8 209.09,947.53 209.22,950.33 207.69,952.65 205.78,955.17 202.14,955.48 199.57,956.75 196.8,956.48 194.13,956.91 191.96,955.1 189.67,952.73 187.92,951.09 185.54,949.55 184.86,947.5Z"/>
<path class="isl" fill="#57161F" d="M238.25,951.33 237.11,949.55 235.6,947.91 234.39,945.56 232.5,943.53 231.58,940.74 233.17,938.8 235.12,938.25 236.92,936.51 237.79,934.07 240.18,933.52 242.24,931.81 243.62,930.2 245.25,928.53 247.9,927.32 250.65,926.43 253.08,925.29 256.05,925.11 258.49,924.34 260.48,924 262.84,922.98 265.25,923.34 267.16,922.15 269.17,921.34 271.08,919.74 272.55,918.32 274.37,915.8 277.08,913.76 279.22,912.53 281.21,910.48 284.31,909.7 286.93,908.07 289.61,909.44 292.85,909.3 295.58,910.52 298.24,909.97 300.73,909.78 302.98,908.76 304.18,910.89 305.76,911.78 304.7,913.68 304.14,915.51 301.6,917.01 299.06,917.92 296.83,920.38 294.87,921.5 292.36,922.49 290.85,924.27 288.54,925.84 286.61,928.48 285,930.48 284,933.26 282.87,935.58 280.52,937.61 279.51,939.72 278.38,942.2 277.06,944.55 275.2,946.76 274.66,949.06 272.38,951.31 271.64,953.42 270.07,954.66 268.67,957.18 266.3,959.11 264.44,960.97 261.89,962.82 259.09,963.43 256.14,962.95 253.43,964.3 250.64,964.51 248.18,964.61 245.6,964.32 244.11,962.34 243.13,959.9 242.37,957.24 241.48,954.75 240.05,952.83Z"/>
<path class="isl" fill="#57161F" d="M323.63,979.48 324.61,977.21 324.52,974.75 325.94,972.83 327.75,970.5 329.71,968.27 330.87,967.03 333.46,966.13 335.36,964.83 336.4,962.73 336.38,960.36 337.7,958.62 339.9,957.42 342.04,956.76 344.78,957.45 346.81,957.13 349.02,957.96 350.84,958.69 353.12,958.45 355.63,959.18 357.5,959.3 359.96,959.43 362.09,959.57 363.76,957.57 366.03,958.46 367.84,958.8 367.73,961.55 367,964.31 365.94,967.41 366.4,969.8 367.49,972.02 368.66,973.67 369,976.36 368.77,979.1 369.65,981.48 368.74,983.92 368.11,986.08 368.3,988.95 366.24,990.6 364.85,992.17 364.19,994.74 362.15,996.11 360.26,997.13 358.17,998.08 355.91,999.45 352.87,999.77 351.28,1001.37 348.88,1001.47 347.15,1002.54 345.13,1002.11 342.67,1002.8 340.48,1002.47 339,1000.67 336.77,999.79 334.79,998.65 333.47,996.18 331.47,995.4 330.16,993.66 328.36,991.82 327.56,990.08 326.88,987.74 325.49,985.77 324.78,983.59 323.86,982.06Z"/>
<path class="isl" fill="#57161F" d="M514.17,900.67 516.12,898.76 517.71,895.86 518.72,892.81 520.1,890.27 521.96,888.3 523.33,885.17 525.3,884.42 527.29,882.7 529.25,882.12 531.4,881.01 533.5,880.04 535.64,878.93 538.72,877.89 541.43,877.89 543.42,878.08 545.85,878.67 548.37,876.02 549.83,873.67 551.05,871.54 551.31,869.61 549.29,867.46 550.22,866.39 550.35,863.9 551.59,862.03 553.35,863.16 555.5,863.56 556.29,864.65 556.63,866.65 557.73,868.63 559.12,869.68 560.64,871.5 560.99,873.17 559.09,875.69 558.82,878.33 557.21,881.11 557.23,883.67 556.76,885.59 555.71,887.37 554.63,889.53 552.42,890.66 551.63,892.41 549.93,894.25 547.49,894.87 545.02,895.52 542.91,896.62 540.89,897.34 539.07,898.26 536.39,898.72 534.46,899.24 532.65,900.3 530.39,900.55 528.02,902.34 525.66,903.73 524.09,905.28 522.99,906.47 520.73,905.69 519.22,904.3 516.42,902.57Z"/>
<path class="isl" fill="#57161F" d="M448.49,976.67 449.49,975.11 451.62,973.88 454,974.44 457.24,974.24 459.4,973.45 462.38,972.65 464.51,972.38 466.45,971.14 468.02,969.96 469.8,968.88 471.75,967.77 474.03,966.28 476.06,964.76 477.51,962.54 478.2,959.6 478.16,956.67 480.27,954.91 481.49,952.42 483.05,949.87 483.91,947.54 485.2,945.67 486.19,943.91 486.62,941.72 488.86,939.87 490.56,936.78 492.44,935.14 492.88,932.49 494.91,930.65 495.21,928.59 496.45,926.97 497.85,924.21 498.44,921.24 499.81,919.27 500.82,916.7 503.8,915.57 505.58,914.09 508.56,913.71 511.48,913 514.07,912.88 515.88,913.61 517.79,912.73 519.87,914.26 517.95,917.7 517.47,919.77 517.51,922.46 517.71,924.84 518.38,927.49 518.06,930.33 518.67,932.78 517.6,935.11 516.81,937.76 515.53,939.74 514.46,942.96 513.27,945.39 513.83,948.38 514.51,951.05 513.34,952.97 512.41,954.96 511.57,956.83 509.39,959.5 507.43,961.7 505.39,963.36 504.22,965.83 501.29,966.77 499.29,968.74 496.85,968.55 494.51,968.92 492.61,968.98 489.92,970 487.6,969.88 484.79,969.68 482.53,970.39 479.35,970.87 477.35,973.43 474.62,975.07 473.42,976.15 471.27,977.46 470.08,979.75 468.08,981.06 465.09,981.94 462.63,981.62 459.45,981.7 456.89,980.91 454.02,979.85 451.29,978.54 448.2,978.5Z"/>
<ellipse cx="1206.3" cy="445.6" rx="4.6" ry="2.1" transform="rotate(-18 1206.3 445.6)" fill="#fff" stroke="#282326" stroke-width="1.1"/>
<circle cx="816.7" cy="443.3" r="1.8" fill="#2a2326"/>
<circle cx="1211.3" cy="515.6" r="1.3" fill="#231a1c"/>
<circle cx="1123.8" cy="693.8" r="1.3" fill="#231a1c"/>
<ellipse cx="722.4" cy="922.8" rx="5" ry="2.3" fill="#1a0d10"/>
<ellipse cx="922.3" cy="986" rx="3.3" ry="3.2" fill="#1a0d10"/>
<rect x="203.7" y="186.30" width="21.30000000000001" height="39.60" fill="#49111D" stroke="#221a1c" stroke-width="2.1"/>
<rect x="203.7" y="225.90" width="21.30000000000001" height="39.60" fill="#571A25" stroke="#221a1c" stroke-width="2.1"/>
<rect x="203.7" y="265.50" width="21.30000000000001" height="39.60" fill="#611926" stroke="#221a1c" stroke-width="2.1"/>
<rect x="203.7" y="305.10" width="21.30000000000001" height="39.60" fill="#701A2E" stroke="#221a1c" stroke-width="2.1"/>
<rect x="203.7" y="344.70" width="21.30000000000001" height="39.60" fill="#7C1B33" stroke="#221a1c" stroke-width="2.1"/>
<rect x="203.7" y="384.30" width="21.30000000000001" height="39.60" fill="#8B1D39" stroke="#221a1c" stroke-width="2.1"/>
<rect x="203.7" y="423.90" width="21.30000000000001" height="39.60" fill="#9D2240" stroke="#221a1c" stroke-width="2.1"/>
<rect x="203.7" y="463.50" width="21.30000000000001" height="39.60" fill="#B12646" stroke="#221a1c" stroke-width="2.1"/>
<rect x="203.7" y="503.10" width="21.30000000000001" height="39.60" fill="#BF2B4B" stroke="#221a1c" stroke-width="2.1"/>
<rect x="203.7" y="542.70" width="21.30000000000001" height="39.60" fill="#C33B57" stroke="#221a1c" stroke-width="2.1"/>
<rect x="203.7" y="582.30" width="21.30000000000001" height="39.60" fill="#C54C65" stroke="#221a1c" stroke-width="2.1"/>
<rect x="203.7" y="621.90" width="21.30000000000001" height="39.60" fill="#C85D72" stroke="#221a1c" stroke-width="2.1"/>
<rect x="203.7" y="661.50" width="21.30000000000001" height="39.60" fill="#CC6F80" stroke="#221a1c" stroke-width="2.1"/>
<rect x="203.7" y="701.10" width="21.30000000000001" height="39.60" fill="#D2808E" stroke="#221a1c" stroke-width="2.1"/>
<rect x="203.7" y="740.70" width="21.30000000000001" height="39.60" fill="#D8919D" stroke="#221a1c" stroke-width="2.1"/>
<rect x="203.7" y="780.30" width="21.30000000000001" height="39.60" fill="#DEA2AB" stroke="#221a1c" stroke-width="2.1"/>
<text x="142.5" y="100" class="lg" text-anchor="start" textLength="147" lengthAdjust="spacingAndGlyphs">Generación</text>
<text x="123.5" y="130.5" class="lg" text-anchor="start" textLength="183" lengthAdjust="spacingAndGlyphs">per cápita (Kg)</text>
<text x="195.5" y="172" class="lg" text-anchor="start" textLength="40" lengthAdjust="spacingAndGlyphs" style="font-size:26.5px">573</text>
<text x="196.5" y="858.8" class="lg" text-anchor="start" textLength="40" lengthAdjust="spacingAndGlyphs" style="font-size:26.5px">362</text>
<text x="401.5" y="82.5" class="hd" text-anchor="start" textLength="310" lengthAdjust="spacingAndGlyphs">% Recogida separada</text>
<rect x="732.8" y="44.5" width="3.8" height="60" fill="#111"/>
<text x="761" y="66" class="hd" text-anchor="start" textLength="308.5" lengthAdjust="spacingAndGlyphs">% Preparación para la</text>
<text x="757" y="100.3" class="hd" text-anchor="start" textLength="321" lengthAdjust="spacingAndGlyphs">reutilización y reciclaje</text>
<rect x="1089.5" y="54.5" width="20.5" height="19.5" fill="#52A343"/>
<rect x="1089.5" y="86" width="20.5" height="19.5" fill="#DA382C"/>
<text x="1116" y="72.6" class="lg" text-anchor="start" textLength="376.5" lengthAdjust="spacingAndGlyphs">Objetivo 2020 (50%) alcanzado</text>
<text x="1116" y="103" class="lg" text-anchor="start" textLength="415" lengthAdjust="spacingAndGlyphs">Objetivo 2020 (50%) no alcanzado</text>
<text transform="translate(502.83,233.07) scale(0.9050,1)" class="num o">17</text><text transform="translate(502.83,233.07) scale(0.9050,1)" class="num w">17</text>
<rect class="bar" x="542.70" y="212.57" width="3.6" height="19.6"/>
<text transform="translate(551.81,233.07) scale(1.0132,1)" class="num o">22</text><text transform="translate(551.81,233.07) scale(1.0132,1)" class="num r">22</text>
<text transform="translate(649.07,184.95) scale(0.9507,1)" class="num o">26</text><text transform="translate(649.07,184.95) scale(0.9507,1)" class="num w">26</text>
<rect class="bar" x="690.20" y="164.45" width="3.6" height="19.6"/>
<text transform="translate(700.10,184.95) scale(0.9708,1)" class="num o">23</text><text transform="translate(700.10,184.95) scale(0.9708,1)" class="num r">23</text>
<text transform="translate(739.89,344.20) scale(0.8730,1)" class="num o">17</text><text transform="translate(739.89,344.20) scale(0.8730,1)" class="num w">17</text>
<rect class="bar" x="777.70" y="323.70" width="3.6" height="19.6"/>
<text transform="translate(787.70,344.20) scale(0.9749,1)" class="num o">37</text><text transform="translate(787.70,344.20) scale(0.9749,1)" class="num r">37</text>
<text transform="translate(797.02,199.45) scale(1.0008,1)" class="num o">22</text><text transform="translate(797.02,199.45) scale(1.0008,1)" class="num w">22</text>
<rect class="bar" x="838.70" y="178.95" width="3.6" height="19.6"/>
<text transform="translate(849.21,199.45) scale(0.9676,1)" class="num o">33</text><text transform="translate(849.21,199.45) scale(0.9676,1)" class="num r">33</text>
<text transform="translate(906.16,214.95) scale(0.9260,1)" class="num o">45</text><text transform="translate(906.16,214.95) scale(0.9260,1)" class="num w">45</text>
<rect class="bar" x="945.70" y="194.45" width="3.6" height="19.6"/>
<text transform="translate(956.52,214.95) scale(0.9214,1)" class="num o">55</text><text transform="translate(956.52,214.95) scale(0.9214,1)" class="num g">55</text>
<text transform="translate(979.29,251.95) scale(0.8482,1)" class="num o">51</text><text transform="translate(979.29,251.95) scale(0.8482,1)" class="num w">51</text>
<rect class="bar" x="1019.20" y="231.45" width="3.6" height="19.6"/>
<text transform="translate(1029.43,251.95) scale(1.0069,1)" class="num o">49</text><text transform="translate(1029.43,251.95) scale(1.0069,1)" class="num r">49</text>
<text transform="translate(913.05,292.57) scale(0.9707,1)" class="num o">20</text><text transform="translate(913.05,292.57) scale(0.9707,1)" class="num w">20</text>
<rect class="bar" x="953.95" y="272.07" width="3.6" height="19.6"/>
<text transform="translate(963.84,292.57) scale(0.9340,1)" class="num o">66</text><text transform="translate(963.84,292.57) scale(0.9340,1)" class="num g">66</text>
<text transform="translate(1056.55,366.57) scale(0.9698,1)" class="num o">22</text><text transform="translate(1056.55,366.57) scale(0.9698,1)" class="num w">22</text>
<rect class="bar" x="1098.20" y="346.07" width="3.6" height="19.6"/>
<text transform="translate(1107.68,366.57) scale(1.0133,1)" class="num o">37</text><text transform="translate(1107.68,366.57) scale(1.0133,1)" class="num r">37</text>
<text transform="translate(1225.38,331.57) scale(1.0051,1)" class="num o">42</text><text transform="translate(1225.38,331.57) scale(1.0051,1)" class="num w">42</text>
<rect class="bar" x="1266.20" y="311.07" width="3.6" height="19.6"/>
<text transform="translate(1277.02,331.57) scale(0.9202,1)" class="num o">57</text><text transform="translate(1277.02,331.57) scale(0.9202,1)" class="num g">57</text>
<text transform="translate(820.15,471.95) scale(0.9829,1)" class="num o">30</text><text transform="translate(820.15,471.95) scale(0.9829,1)" class="num w">30</text>
<rect class="bar" x="859.95" y="451.45" width="3.6" height="19.6"/>
<text transform="translate(870.14,471.95) scale(0.9331,1)" class="num o">29</text><text transform="translate(870.14,471.95) scale(0.9331,1)" class="num r">29</text>
<text transform="translate(877.89,564.70) scale(0.8715,1)" class="num o">14</text><text transform="translate(877.89,564.70) scale(0.8715,1)" class="num w">14</text>
<rect class="bar" x="915.70" y="544.20" width="3.6" height="19.6"/>
<text transform="translate(925.69,564.70) scale(0.9850,1)" class="num o">44</text><text transform="translate(925.69,564.70) scale(0.9850,1)" class="num r">44</text>
<text transform="translate(624.07,599.20) scale(0.9100,1)" class="num o">14</text><text transform="translate(624.07,599.20) scale(0.9100,1)" class="num w">14</text>
<rect class="bar" x="663.20" y="578.70" width="3.6" height="19.6"/>
<text transform="translate(672.93,599.20) scale(0.9906,1)" class="num o">45</text><text transform="translate(672.93,599.20) scale(0.9906,1)" class="num r">45</text>
<text transform="translate(747.32,775.70) scale(0.9064,1)" class="num o">15</text><text transform="translate(747.32,775.70) scale(0.9064,1)" class="num w">15</text>
<rect class="bar" x="786.95" y="755.20" width="3.6" height="19.6"/>
<text transform="translate(797.24,775.70) scale(0.9298,1)" class="num o">35</text><text transform="translate(797.24,775.70) scale(0.9298,1)" class="num r">35</text>
<text transform="translate(1074.81,580.95) scale(0.9147,1)" class="num o">19</text><text transform="translate(1074.81,580.95) scale(0.9147,1)" class="num w">19</text>
<rect class="bar" x="1113.70" y="560.45" width="3.6" height="19.6"/>
<text transform="translate(1123.95,580.95) scale(0.9902,1)" class="num o">53</text><text transform="translate(1123.95,580.95) scale(0.9902,1)" class="num g">53</text>
<text transform="translate(1002.32,722.33) scale(0.9090,1)" class="num o">18</text><text transform="translate(1002.32,722.33) scale(0.9090,1)" class="num w">18</text>
<rect class="bar" x="1040.20" y="701.83" width="3.6" height="19.6"/>
<text transform="translate(1050.45,722.33) scale(0.9753,1)" class="num o">33</text><text transform="translate(1050.45,722.33) scale(0.9753,1)" class="num r">33</text>
<text transform="translate(1352.06,545.40) scale(0.9673,1)" class="num o">28</text><text transform="translate(1352.06,545.40) scale(0.9673,1)" class="num w">28</text>
<rect class="bar" x="1393.00" y="524.90" width="3.6" height="19.6"/>
<text transform="translate(1403.06,545.40) scale(0.9616,1)" class="num o">25</text><text transform="translate(1403.06,545.40) scale(0.9616,1)" class="num r">25</text>
<text transform="translate(218.64,946.75) scale(0.9797,1)" class="num o">27</text><text transform="translate(218.64,946.75) scale(0.9797,1)" class="num w">27</text>
<rect class="bar" x="259.90" y="926.25" width="3.6" height="19.6"/>
<text transform="translate(270.01,946.75) scale(0.9716,1)" class="num o">39</text><text transform="translate(270.01,946.75) scale(0.9716,1)" class="num r">39</text>
<text transform="translate(688.48,933.60) scale(0.8562,1)" class="num o">9</text><text transform="translate(688.48,933.60) scale(0.8562,1)" class="num w">9</text>
<rect class="bar" x="719.40" y="913.10" width="3.6" height="19.6"/>
<text transform="translate(729.02,933.60) scale(0.9980,1)" class="num o">29</text><text transform="translate(729.02,933.60) scale(0.9980,1)" class="num r">29</text>
<text transform="translate(888.54,996.60) scale(0.9704,1)" class="num o">8</text><text transform="translate(888.54,996.60) scale(0.9704,1)" class="num w">8</text>
<rect class="bar" x="920.50" y="976.10" width="3.6" height="19.6"/>
<text transform="translate(931.25,996.60) scale(0.8403,1)" class="num o">11</text><text transform="translate(931.25,996.60) scale(0.8403,1)" class="num r">11</text>
</svg></body></html>
